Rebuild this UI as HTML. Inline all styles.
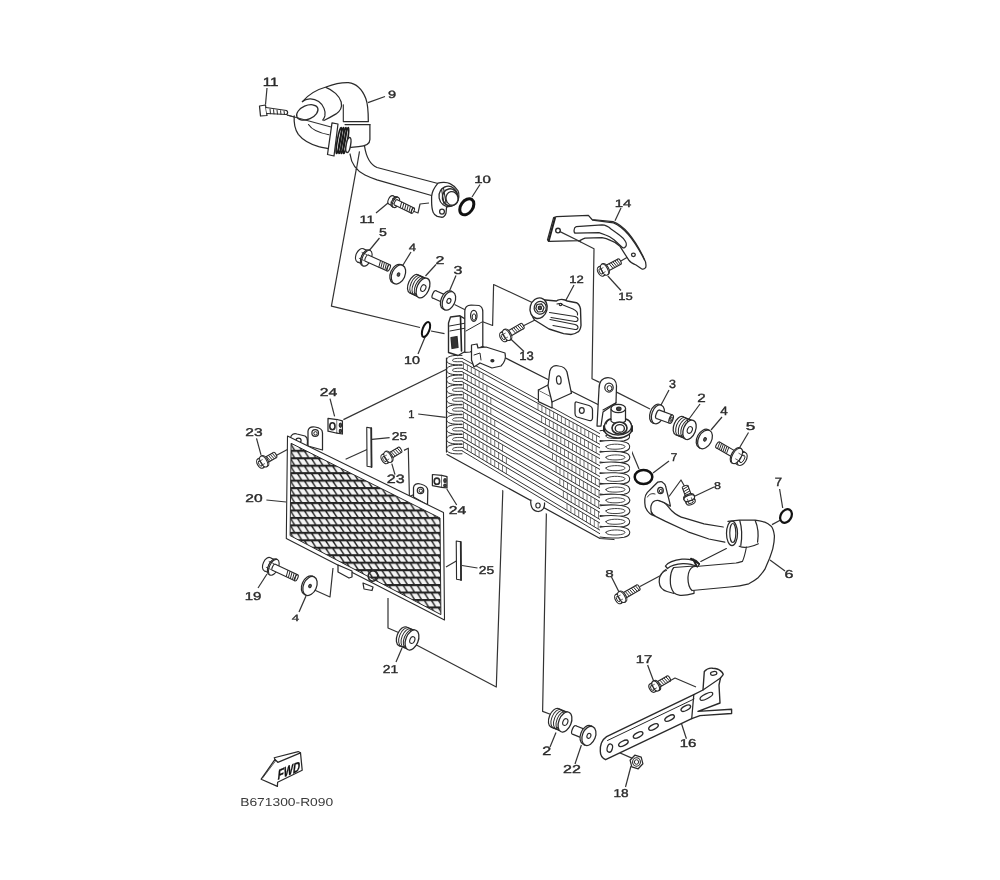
<!DOCTYPE html>
<html><head><meta charset="utf-8"><style>
html,body{margin:0;padding:0;background:#fff;}
svg{display:block;will-change:transform;}
text{font-family:"Liberation Sans",sans-serif;fill:#2a2a2a;stroke:#2a2a2a;stroke-width:0.4px;text-rendering:geometricPrecision;}
</style></head><body>
<svg width="1000" height="880" viewBox="0 0 1000 880">
<rect width="1000" height="880" fill="#fff"/>
<polyline points="267,88 265.5,104.5" fill="none" stroke="#333" stroke-width="1.2" stroke-linejoin="round"/>
<polyline points="368,102.6 385,96.5" fill="none" stroke="#333" stroke-width="1.2" stroke-linejoin="round"/>
<polyline points="480,184.5 472,197" fill="none" stroke="#333" stroke-width="1.2" stroke-linejoin="round"/>
<polyline points="388,203 376,213" fill="none" stroke="#333" stroke-width="1.2" stroke-linejoin="round"/>
<polyline points="368,252 379.5,238" fill="none" stroke="#333" stroke-width="1.2" stroke-linejoin="round"/>
<polyline points="402.7,265.5 411,252" fill="none" stroke="#333" stroke-width="1.2" stroke-linejoin="round"/>
<polyline points="425.5,276 436,264.5" fill="none" stroke="#333" stroke-width="1.2" stroke-linejoin="round"/>
<polyline points="449,292 456,275.5" fill="none" stroke="#333" stroke-width="1.2" stroke-linejoin="round"/>
<polyline points="425.5,336 418,354" fill="none" stroke="#333" stroke-width="1.2" stroke-linejoin="round"/>
<polyline points="615,220.7 621,208" fill="none" stroke="#333" stroke-width="1.2" stroke-linejoin="round"/>
<polyline points="566,300 574,285" fill="none" stroke="#333" stroke-width="1.2" stroke-linejoin="round"/>
<polyline points="607.8,276 621,290.5" fill="none" stroke="#333" stroke-width="1.2" stroke-linejoin="round"/>
<polyline points="510.7,339 524,351.5" fill="none" stroke="#333" stroke-width="1.2" stroke-linejoin="round"/>
<polyline points="334.6,416.3 330,398.7" fill="none" stroke="#333" stroke-width="1.2" stroke-linejoin="round"/>
<polyline points="261,454.8 256.5,438.3" fill="none" stroke="#333" stroke-width="1.2" stroke-linejoin="round"/>
<polyline points="418.2,414 445.7,417.4" fill="none" stroke="#333" stroke-width="1.2" stroke-linejoin="round"/>
<polyline points="372,439.4 389.6,437.6" fill="none" stroke="#333" stroke-width="1.2" stroke-linejoin="round"/>
<polyline points="391.8,463.6 395,474.6" fill="none" stroke="#333" stroke-width="1.2" stroke-linejoin="round"/>
<polyline points="266.4,500 286.2,502" fill="none" stroke="#333" stroke-width="1.2" stroke-linejoin="round"/>
<polyline points="446.8,489 456.7,505" fill="none" stroke="#333" stroke-width="1.2" stroke-linejoin="round"/>
<polyline points="462,565.5 477.5,568" fill="none" stroke="#333" stroke-width="1.2" stroke-linejoin="round"/>
<polyline points="267,574 258,588" fill="none" stroke="#333" stroke-width="1.2" stroke-linejoin="round"/>
<polyline points="306,596 299,612" fill="none" stroke="#333" stroke-width="1.2" stroke-linejoin="round"/>
<polyline points="402,648 396,662" fill="none" stroke="#333" stroke-width="1.2" stroke-linejoin="round"/>
<polyline points="661,405 669,390" fill="none" stroke="#333" stroke-width="1.2" stroke-linejoin="round"/>
<polyline points="689,419 700,404" fill="none" stroke="#333" stroke-width="1.2" stroke-linejoin="round"/>
<polyline points="711,430 722,417" fill="none" stroke="#333" stroke-width="1.2" stroke-linejoin="round"/>
<polyline points="737,452 748.5,432.5" fill="none" stroke="#333" stroke-width="1.2" stroke-linejoin="round"/>
<polyline points="653,473 669,461" fill="none" stroke="#333" stroke-width="1.2" stroke-linejoin="round"/>
<polyline points="694,496.5 714,487" fill="none" stroke="#333" stroke-width="1.2" stroke-linejoin="round"/>
<polyline points="779.6,489 782.7,508" fill="none" stroke="#333" stroke-width="1.2" stroke-linejoin="round"/>
<polyline points="619,592 611.5,577" fill="none" stroke="#333" stroke-width="1.2" stroke-linejoin="round"/>
<polyline points="770,560 785,571" fill="none" stroke="#333" stroke-width="1.2" stroke-linejoin="round"/>
<polyline points="654,682 647.6,665" fill="none" stroke="#333" stroke-width="1.2" stroke-linejoin="round"/>
<polyline points="680,719 686.4,738.7" fill="none" stroke="#333" stroke-width="1.2" stroke-linejoin="round"/>
<polyline points="556,732.4 550,747" fill="none" stroke="#333" stroke-width="1.2" stroke-linejoin="round"/>
<polyline points="581.4,745 575,764" fill="none" stroke="#333" stroke-width="1.2" stroke-linejoin="round"/>
<polyline points="631,766 625.5,787" fill="none" stroke="#333" stroke-width="1.2" stroke-linejoin="round"/>
<polyline points="287,115 330,127" fill="none" stroke="#333" stroke-width="1.2" stroke-linejoin="round"/>
<polyline points="359.5,151.4 331.4,306.2 420,327.5" fill="none" stroke="#333" stroke-width="1.2" stroke-linejoin="round"/>
<polyline points="431,331 444.5,333.6" fill="none" stroke="#333" stroke-width="1.2" stroke-linejoin="round"/>
<polyline points="413,211 418,213 420,204 429,203" fill="none" stroke="#333" stroke-width="1.2" stroke-linejoin="round"/>
<polyline points="454.5,304.5 465.5,310" fill="none" stroke="#333" stroke-width="1.2" stroke-linejoin="round"/>
<polyline points="474,318.5 492.6,325.5 493.6,284.5 532.7,302.7" fill="none" stroke="#333" stroke-width="1.2" stroke-linejoin="round"/>
<polyline points="523,326 535,320" fill="none" stroke="#333" stroke-width="1.2" stroke-linejoin="round"/>
<polyline points="561,232 594,248.8 592,378.8 599.6,382.4" fill="none" stroke="#333" stroke-width="1.2" stroke-linejoin="round"/>
<polyline points="620,261.6 633,254" fill="none" stroke="#333" stroke-width="1.2" stroke-linejoin="round"/>
<polyline points="611.6,389.6 650,409" fill="none" stroke="#333" stroke-width="1.2" stroke-linejoin="round"/>
<polyline points="621.5,427 639,469" fill="none" stroke="#333" stroke-width="1.2" stroke-linejoin="round"/>
<polyline points="669,496.5 681,480 685.5,488" fill="none" stroke="#333" stroke-width="1.2" stroke-linejoin="round"/>
<polyline points="780.6,520 772,524.6" fill="none" stroke="#333" stroke-width="1.2" stroke-linejoin="round"/>
<polyline points="640,586.5 669,571" fill="none" stroke="#333" stroke-width="1.2" stroke-linejoin="round"/>
<polyline points="343.4,419.6 451.6,366.8" fill="none" stroke="#333" stroke-width="1.2" stroke-linejoin="round"/>
<polyline points="275.2,456 294,446" fill="none" stroke="#333" stroke-width="1.2" stroke-linejoin="round"/>
<polyline points="345.6,459.2 367.6,449.3" fill="none" stroke="#333" stroke-width="1.2" stroke-linejoin="round"/>
<polyline points="404,450.4 408.3,448.2 409.4,496.6 414,494.5" fill="none" stroke="#333" stroke-width="1.2" stroke-linejoin="round"/>
<polyline points="446,567 458,560" fill="none" stroke="#333" stroke-width="1.2" stroke-linejoin="round"/>
<polyline points="310,588 330,597 333,568" fill="none" stroke="#333" stroke-width="1.2" stroke-linejoin="round"/>
<polyline points="402,634 388,628 388,598" fill="none" stroke="#333" stroke-width="1.2" stroke-linejoin="round"/>
<polyline points="416,644.7 496.3,687 502.9,488" fill="none" stroke="#333" stroke-width="1.2" stroke-linejoin="round"/>
<polyline points="546.4,512 542.6,711.4 551,714.5" fill="none" stroke="#333" stroke-width="1.2" stroke-linejoin="round"/>
<polyline points="669.6,681 675,678 696,687" fill="none" stroke="#333" stroke-width="1.2" stroke-linejoin="round"/>
<polyline points="611,749 633,758.6" fill="none" stroke="#333" stroke-width="1.2" stroke-linejoin="round"/>
<path d="M364.5,146 C366,156 369,164 377,167.5 L438,184 L432,196 L377,179.8 C369,178 360,174 355,168 C351,163 350,158 350,154 Z" fill="#fff" stroke="#2a2a2a" stroke-width="0" stroke-linejoin="round" stroke-linecap="round" />
<path d="M364.5,146 C366,156 369,164 377,167.5 L438,183.5" fill="none" stroke="#2a2a2a" stroke-width="1.25" stroke-linejoin="round" stroke-linecap="round" />
<path d="M350,154 C351,162 355,170 365,175 C369,177 373,178.5 377,179.8 L431.5,195.5" fill="none" stroke="#2a2a2a" stroke-width="1.25" stroke-linejoin="round" stroke-linecap="round" />
<path d="M294.2,115.9 C293.8,122 294.5,129 298.3,134.3 C302,139 310,144 318.7,146.6 C322,147.5 325,148 328,148.6 L340,124 L323,120 Z" fill="#fff" stroke="#2a2a2a" stroke-width="0" stroke-linejoin="round" stroke-linecap="round" />
<path d="M294.2,115.9 C293.8,122 294.5,129 298.3,134.3 C302,139 310,144 318.7,146.6 C322,147.5 325,148 328,148.6" fill="none" stroke="#2a2a2a" stroke-width="1.25" stroke-linejoin="round" stroke-linecap="round" />
<path d="M308.5,124.5 C311,128.5 317,132.5 329,134.8" fill="none" stroke="#2a2a2a" stroke-width="1.12" stroke-linejoin="round" stroke-linecap="round" />
<path d="M302.4,101.6 C308,95 317,89.5 326,87 C334,84 342,82.5 348.4,82.7 C356,83.5 362,89 365.8,98.5 C367.5,103 368.3,112 368.3,121 L369.9,124 L369.9,139.4 C369.9,143 366,146 358.6,146.6 L348.4,147.6 L343,124 L323,120 Z" fill="#fff" stroke="#2a2a2a" stroke-width="0" stroke-linejoin="round" stroke-linecap="round" />
<path d="M302.4,101.6 C308,95 317,89.5 326,87 C334,84 342,82.5 348.4,82.7 C356,83.5 362,89 365.8,98.5 C367.5,103 368.3,112 368.3,121" fill="none" stroke="#2a2a2a" stroke-width="1.25" stroke-linejoin="round" stroke-linecap="round" />
<path d="M369.9,124.5 L369.9,139.4 C369.9,143 366,146 358.6,146.6 L348.4,147.6" fill="none" stroke="#2a2a2a" stroke-width="1.25" stroke-linejoin="round" stroke-linecap="round" />
<path d="M302.4,101.6 C307,97.5 314,98.5 318.7,101.6 C323.5,105 326,111.5 324.9,115.9 C324.3,118 323.7,119 322.8,120" fill="none" stroke="#2a2a2a" stroke-width="1.25" stroke-linejoin="round" stroke-linecap="round" />
<ellipse cx="307.3" cy="112.4" rx="11.3" ry="6.8" transform="rotate(-24 307.3 112.4)" fill="#fff" stroke="#2a2a2a" stroke-width="1.25"/>
<path d="M325.9,87.3 C333,90 339.5,96 341.2,102 C342.5,108 339,112 336.1,113.9 C331,117 327,119 323.9,120.5" fill="none" stroke="#2a2a2a" stroke-width="1.25" stroke-linejoin="round" stroke-linecap="round" />
<path d="M343.3,104.7 L343.3,121" fill="none" stroke="#2a2a2a" stroke-width="1.12" stroke-linejoin="round" stroke-linecap="round" />
<path d="M343.3,121.6 L368.5,121.6 M345,124.6 L370,124.6" fill="none" stroke="#2a2a2a" stroke-width="1.12" stroke-linejoin="round" stroke-linecap="round" />
<path d="M332,122.8 L338,124 L334,156 L327.5,154.5 Z" fill="#fff" stroke="#2a2a2a" stroke-width="1.25" stroke-linejoin="round" stroke-linecap="round" />
<ellipse cx="338.8" cy="140.5" rx="1.5" ry="13.2" transform="rotate(10 338.8 140.5)" fill="none" stroke="#1a1a1a" stroke-width="1.62"/>
<ellipse cx="341.2" cy="140.5" rx="1.5" ry="13.2" transform="rotate(10 341.2 140.5)" fill="none" stroke="#1a1a1a" stroke-width="1.62"/>
<ellipse cx="343.6" cy="140.5" rx="1.5" ry="13.2" transform="rotate(10 343.6 140.5)" fill="none" stroke="#1a1a1a" stroke-width="1.62"/>
<ellipse cx="346.0" cy="140.5" rx="1.5" ry="13.2" transform="rotate(10 346.0 140.5)" fill="none" stroke="#1a1a1a" stroke-width="1.62"/>
<ellipse cx="348.4" cy="145.0" rx="2.2" ry="7.6" transform="rotate(10 348.4 145.0)" fill="#fff" stroke="#2a2a2a" stroke-width="1.38"/>
<path d="M438,183.2 C441,182 447,182 450,183.6 C453,185 456,187.5 458,190.8 C459.5,194 459.3,199.5 456.4,203.6 L448.4,206 L446.5,207.6 L446,213.2 C445,216 443,217.5 441,217.2 L437.2,216.4 C435,215 433.5,213.5 433.2,212.4 C432,209.5 431.6,206 431.6,201 L431.6,196.4 C432,192 433,189 438,183.2 Z" fill="#fff" stroke="#2a2a2a" stroke-width="1.25" stroke-linejoin="round" stroke-linecap="round" />
<ellipse cx="448.4" cy="196.4" rx="9.4" ry="10.2" transform="rotate(-10 448.4 196.4)" fill="#fff" stroke="#2a2a2a" stroke-width="1.25"/>
<ellipse cx="450.2" cy="197.4" rx="7.8" ry="8.6" transform="rotate(-10 450.2 197.4)" fill="none" stroke="#2a2a2a" stroke-width="1.5"/>
<ellipse cx="452.0" cy="198.4" rx="6.0" ry="6.8" transform="rotate(-10 452.0 198.4)" fill="#fff" stroke="#2a2a2a" stroke-width="1.25"/>
<path d="M441.5,189 L444,204 M443.5,188 L446,203" fill="none" stroke="#2a2a2a" stroke-width="1.12" stroke-linejoin="round" stroke-linecap="round" />
<ellipse cx="442.0" cy="211.6" rx="2.4" ry="2.6" transform="rotate(0 442.0 211.6)" fill="none" stroke="#2a2a2a" stroke-width="1.25"/>
<path d="M652,501.4 C655,500 662,500.5 666.4,504.6 C669,507 670,509 672,511 C676,515 680,517 684.8,518.2 L704,523.8 L723.2,527 L724.8,542.2 L708.8,539 L688,531.8 L665.6,521.4 C660,519 656,516.6 656,516.6 C652,514 651.2,511.8 651.2,511.8 L651.2,503.8 Z" fill="#fff" stroke="#2a2a2a" stroke-width="0" stroke-linejoin="round" stroke-linecap="round" />
<path d="M659,500.6 C662,500.5 664.5,502.5 666.4,504.6 C668.5,507 670,509 672,511 C676,515 680,517 684.8,518.2 L704,523.8 L723.2,527" fill="none" stroke="#2a2a2a" stroke-width="1.25" stroke-linejoin="round" stroke-linecap="round" />
<path d="M651.2,511.8 C652,514 654,515.6 656,516.6 L665.6,521.4 L688,531.8 L708.8,539 L724.8,542.2" fill="none" stroke="#2a2a2a" stroke-width="1.25" stroke-linejoin="round" stroke-linecap="round" />
<path d="M644.8,499 C645,496 646,494 647.2,492.6 L652.8,487 L657.6,482.2 C660,481.5 662,481.5 662.4,482.2 C664.5,483.5 665.5,485 665.6,486.2 L667.2,492.6 L669.6,502.2 L670.4,506.2 C666,503 662,501.5 659,500.6 C655,500 652,502 651,506 C650.5,510 651,512 652,514 L654.4,515.8 C651,515 649.6,513.4 649.6,513.4 C646,510 644.8,507 644.8,503 Z" fill="#fff" stroke="#2a2a2a" stroke-width="1.25" stroke-linejoin="round" stroke-linecap="round" />
<ellipse cx="660.5" cy="490.5" rx="2.8" ry="3.2" transform="rotate(0 660.5 490.5)" fill="#fff" stroke="#2a2a2a" stroke-width="1.25"/>
<ellipse cx="660.8" cy="491.0" rx="1.4" ry="1.6" transform="rotate(0 660.8 491.0)" fill="none" stroke="#2a2a2a" stroke-width="1.0"/>
<path d="M647.5,497 C649,494 652,493 655,494" fill="none" stroke="#2a2a2a" stroke-width="1.0" stroke-linejoin="round" stroke-linecap="round" />
<path d="M667,570 C661.5,572 659,577 659.2,582 C659.5,587 662,590 667,591.5 L674,593.5 L676,570 Z" fill="#fff" stroke="#2a2a2a" stroke-width="0" stroke-linejoin="round" stroke-linecap="round" />
<path d="M666,569.5 C661.5,572 659,577 659.2,582 C659.5,587 662,590 667,591.5 L674,593.5" fill="none" stroke="#2a2a2a" stroke-width="1.25" stroke-linejoin="round" stroke-linecap="round" />
<path d="M673.8,567.5 L694,566 L694,593.3 C688,595 684,595.6 680,595.3 C677,594.8 675,594 673.8,592.6 C671,589 670.2,584 670.3,580 C670.4,575 671.5,570 673.8,567.5 Z" fill="#fff" stroke="#2a2a2a" stroke-width="1.25" stroke-linejoin="round" stroke-linecap="round" />
<path d="M660.5,576 C662,572.5 664,571 666.5,570.5" fill="none" stroke="#2a2a2a" stroke-width="1.0" stroke-linejoin="round" stroke-linecap="round" />
<path d="M728,521.4 L739.2,520.1 L755.2,520.1 C760,520.5 764.8,522.2 764.8,522.2 C768,523.5 771.2,526.2 771.2,526.2 C773.5,529 774.4,535.8 774.4,535.8 C774.5,541 772.8,548.6 772.8,548.6 C771.5,553 769.6,558.2 769.6,558.2 C767.5,563 764.8,569.4 764.8,569.4 C762,573.5 758.4,577.4 758.4,577.4 C754,581 748.8,583.8 748.8,583.8 C740,586 729.6,587 729.6,587 L692,590.5 C689,587.5 687.8,582 688,577 C688.3,572 690,568.5 693,566.8 L736,563 L742.4,561.4 L746.4,547 L732,545 Z" fill="#fff" stroke="#2a2a2a" stroke-width="0" stroke-linejoin="round" stroke-linecap="round" />
<path d="M728,521.4 L739.2,520.1 L755.2,520.1 C760,520.5 764.8,522.2 764.8,522.2 C768,523.5 771.2,526.2 771.2,526.2 C773.5,529 774.4,535.8 774.4,535.8 C774.5,541 772.8,548.6 772.8,548.6 C771.5,553 769.6,558.2 769.6,558.2 C767.5,563 764.8,569.4 764.8,569.4 C762,573.5 758.4,577.4 758.4,577.4 C754,581 748.8,583.8 748.8,583.8 C740,586 729.6,587 729.6,587 L692,590.5 C689,587.5 687.8,582 688,577 C688.3,572 690,568.5 693,566.8" fill="none" stroke="#2a2a2a" stroke-width="1.25" stroke-linejoin="round" stroke-linecap="round" />
<path d="M693,566.8 L736,563 C739,562.5 741.5,561.5 742.4,561.4 C744.5,557 745.5,552 746.4,547" fill="none" stroke="#2a2a2a" stroke-width="1.12" stroke-linejoin="round" stroke-linecap="round" />
<ellipse cx="732.0" cy="533.4" rx="5.5" ry="12.3" transform="rotate(0 732.0 533.4)" fill="#fff" stroke="#2a2a2a" stroke-width="1.25"/>
<ellipse cx="732.8" cy="533.0" rx="3.0" ry="9.5" transform="rotate(0 732.8 533.0)" fill="#fff" stroke="#2a2a2a" stroke-width="1.12"/>
<path d="M739.8,520.6 C742,528 742,538 740.8,545.4" fill="none" stroke="#2a2a2a" stroke-width="1.25" stroke-linejoin="round" stroke-linecap="round" />
<path d="M755.2,520.6 C758,527 758.5,536 757.6,542.2" fill="none" stroke="#2a2a2a" stroke-width="1.25" stroke-linejoin="round" stroke-linecap="round" />
<path d="M739.2,546.2 C742,547.5 746,547.5 748.8,547 C752,546.5 755,545.5 758.4,543.8" fill="none" stroke="#2a2a2a" stroke-width="1.12" stroke-linejoin="round" stroke-linecap="round" />
<path d="M700.8,561.4 L726.4,548.6" fill="none" stroke="#2a2a2a" stroke-width="1.12" stroke-linejoin="round" stroke-linecap="round" />
<path d="M665.4,566 C668,562.5 674,560.2 682,559.2 C688,558.6 694,559.6 699.5,564 L697.5,567 C693,564.5 688,563.6 683,563.7 C677,564 671,565.5 667.5,568.5 Z" fill="#fff" stroke="#2a2a2a" stroke-width="1.25" stroke-linejoin="round" stroke-linecap="round" />
<path d="M691,558.8 C694,559.6 697,561.5 699,563.8 M693.5,559.5 L696.5,566" fill="none" stroke="#222" stroke-width="2.0" stroke-linejoin="round" stroke-linecap="round" />
<path d="M549.5,241.3 L547.5,240 L553.6,217.6 L556.7,216.6 L588.4,215.4 L592,219.5 L613,221.7 C625,226 635,240 643.6,257.5 C645.5,261 646.5,265 645.6,267.7 C644,269.5 642,269 641.5,268.7 L636,265 C632,263.5 630,262 628.8,260.2 L620,246.4 C617,243 614,241.5 611,240.6 C607,238.5 604,237.8 602,237.6 L585,238.2 C583,238.8 581,240 579.8,240.6 Z" fill="#fff" stroke="#2a2a2a" stroke-width="1.25" stroke-linejoin="round" stroke-linecap="round" />
<path d="M592.5,220.2 L613.5,222.8 C626,228 636,243 644.5,260" fill="none" stroke="#2a2a2a" stroke-width="1.25" stroke-linejoin="round" stroke-linecap="round" />
<path d="M548.7,241 L555,218" fill="none" stroke="#222" stroke-width="2.0" stroke-linejoin="round" stroke-linecap="round" />
<path d="M576.2,226.6 L602,224.8 C606,225 609,227 611,229 C614.5,231.5 617.5,233.5 620,235.6 C622.5,237.5 624.5,239.5 625.5,241.5 C627,244 626.5,246.5 624.5,247.6 C623,248.2 622.5,247.8 621.8,247 L614,239.8 C611,237.5 608,235.8 605.6,235 L599,232.6 L575.6,233.2 C573.5,233 573.4,227.5 576.2,226.6 Z" fill="none" stroke="#2a2a2a" stroke-width="1.25" stroke-linejoin="round" stroke-linecap="round" />
<ellipse cx="558.0" cy="230.6" rx="2.3" ry="2.3" transform="rotate(0 558.0 230.6)" fill="none" stroke="#2a2a2a" stroke-width="1.38"/>
<ellipse cx="633.4" cy="254.8" rx="1.9" ry="1.7" transform="rotate(0 633.4 254.8)" fill="none" stroke="#2a2a2a" stroke-width="1.25"/>
<path d="M540,299.5 L556.4,301 C558,299.5 562,299 565,300 L567.3,301 L576.4,302.7 C579,304 580,306.5 580.5,309 L581,325.5 C580.5,329 579.5,331 578.2,331.8 C575,334 573,334.5 571,334.5 L563.6,333.6 L549,329 L534.5,320 C531,316 531,304 540,299.5 Z" fill="#fff" stroke="#2a2a2a" stroke-width="1.38" stroke-linejoin="round" stroke-linecap="round" />
<ellipse cx="538.6" cy="308.2" rx="8.5" ry="10.4" transform="rotate(15 538.6 308.2)" fill="#fff" stroke="#2a2a2a" stroke-width="1.38"/>
<ellipse cx="540.2" cy="307.8" rx="6.0" ry="6.4" transform="rotate(15 540.2 307.8)" fill="#fff" stroke="#2a2a2a" stroke-width="1.25"/>
<path d="M537,304.5 L541.5,303.8 L544,307.5 L542.5,311.5 L538,312 L535.8,308.5 Z" fill="#fff" stroke="#2a2a2a" stroke-width="1.25" stroke-linejoin="round" stroke-linecap="round" />
<ellipse cx="539.9" cy="307.9" rx="1.6" ry="1.8" transform="rotate(0 539.9 307.9)" fill="#555" stroke="#2a2a2a" stroke-width="1.25"/>
<path d="M549.5,312.5 L575,316.5 C579,317.5 579,322 575,321.5 L551,317.5" fill="none" stroke="#2a2a2a" stroke-width="1.12" stroke-linejoin="round" stroke-linecap="round" />
<path d="M550,319.5 L575,324.5 C579,325.5 579,330 575,329.5 L553,325.5" fill="none" stroke="#2a2a2a" stroke-width="1.12" stroke-linejoin="round" stroke-linecap="round" />
<path d="M557,304 C559,303 562,303.5 563,305 L573,309 C576,310.5 578,313 577.5,315" fill="none" stroke="#2a2a2a" stroke-width="1.12" stroke-linejoin="round" stroke-linecap="round" />
<ellipse cx="560.5" cy="304.5" rx="1.3" ry="1.1" transform="rotate(0 560.5 304.5)" fill="none" stroke="#2a2a2a" stroke-width="1.12"/>
<path d="M606.6,736.6 L693.8,694.6 L703,690 L704.3,671.5 C707,668.5 710,667.8 712.7,668.3 C716,668.5 719,669.5 720,670.4 C722,672 723.2,673.5 723.2,674.6 L720.5,678 L719,685 L720,703 L698,711.4 L731.6,709.3 L731.6,713.5 L700,715.6 L691.7,718.7 L605.6,759.7 C602,758 600.3,755 600.3,751.3 C600.2,747.5 600.6,745 601.4,743 C602.5,740 604.5,738 606.6,736.6 Z" fill="#fff" stroke="#2a2a2a" stroke-width="1.38" stroke-linejoin="round" stroke-linecap="round" />
<path d="M693.8,694.6 L691.7,718.7" fill="none" stroke="#2a2a2a" stroke-width="1.25" stroke-linejoin="round" stroke-linecap="round" />
<path d="M703,690 L720.5,678" fill="none" stroke="#2a2a2a" stroke-width="1.12" stroke-linejoin="round" stroke-linecap="round" />
<path d="M607.5,740.5 L694,699" fill="none" stroke="#2a2a2a" stroke-width="1.0" stroke-linejoin="round" stroke-linecap="round" />
<ellipse cx="713.7" cy="673.4" rx="3.2" ry="1.8" transform="rotate(-10 713.7 673.4)" fill="none" stroke="#2a2a2a" stroke-width="1.25"/>
<ellipse cx="623.4" cy="743.3" rx="5.2" ry="2.3" transform="rotate(-27 623.4 743.3)" fill="none" stroke="#2a2a2a" stroke-width="1.38"/>
<ellipse cx="638.1" cy="735.0" rx="5.2" ry="2.3" transform="rotate(-27 638.1 735.0)" fill="none" stroke="#2a2a2a" stroke-width="1.38"/>
<ellipse cx="653.5" cy="727.0" rx="5.2" ry="2.3" transform="rotate(-27 653.5 727.0)" fill="none" stroke="#2a2a2a" stroke-width="1.38"/>
<ellipse cx="669.6" cy="718.1" rx="5.2" ry="2.3" transform="rotate(-27 669.6 718.1)" fill="none" stroke="#2a2a2a" stroke-width="1.38"/>
<ellipse cx="685.8" cy="708.2" rx="5.2" ry="2.3" transform="rotate(-27 685.8 708.2)" fill="none" stroke="#2a2a2a" stroke-width="1.38"/>
<ellipse cx="706.4" cy="696.3" rx="7.0" ry="2.4" transform="rotate(-27 706.4 696.3)" fill="none" stroke="#2a2a2a" stroke-width="1.25"/>
<ellipse cx="609.8" cy="748.1" rx="2.6" ry="4.2" transform="rotate(15 609.8 748.1)" fill="none" stroke="#2a2a2a" stroke-width="1.25"/>
<path d="M261.2,779.2 L275,759.4 L277.8,762.3 L300.5,752.8 L302.2,770.2 L277.6,782.2 L277.4,786.4 Z" fill="#fff" stroke="#2a2a2a" stroke-width="1.25" stroke-linejoin="round" stroke-linecap="round" />
<path d="M275,759.4 L274.2,757.8 L298.2,751.6 L300.5,752.8" fill="none" stroke="#2a2a2a" stroke-width="1.12" stroke-linejoin="round" stroke-linecap="round" />
<path d="M263,777.5 L275.5,761" fill="none" stroke="#2a2a2a" stroke-width="0.75" stroke-linejoin="round" stroke-linecap="round" />
<text transform="translate(288.5 775.5) skewY(-22) scale(0.7 1) skewX(-10)" text-anchor="middle" font-size="14" font-weight="bold" style="font-family:'Liberation Sans',sans-serif;fill:#111;stroke:#111;stroke-width:0.35px">FWD</text>
<polyline points="359.5,151.4 356.3,170" fill="none" stroke="#333" stroke-width="1.2" stroke-linejoin="round"/>
<polyline points="559.5,231.4 581,242" fill="none" stroke="#333" stroke-width="1.2" stroke-linejoin="round"/>
<polyline points="287,115 331,127" fill="none" stroke="#333" stroke-width="1.2" stroke-linejoin="round"/>
<defs><pattern id="mesh" patternUnits="userSpaceOnUse" x="291.7" y="443.25" width="7.05" height="7.46">
<rect width="7.05" height="7.46" fill="#222"/>
<polygon points="0,1.1 5.3,1.1 8.8,6.45 3.5,6.45" fill="#f4f4f4"/>
<polygon points="-7.05,1.1 -1.75,1.1 1.75,6.45 -3.55,6.45" fill="#f4f4f4"/>
</pattern></defs>
<path d="M291,447 L290.5,438 C291,434.5 294,433 297,434 L305,436 C307,437 307.5,439 307.5,441 L307,449 Z" fill="#fff" stroke="#2a2a2a" stroke-width="1.25" stroke-linejoin="round" stroke-linecap="round" />
<ellipse cx="298.5" cy="440.5" rx="2.6" ry="2.4" transform="rotate(0 298.5 440.5)" fill="none" stroke="#2a2a2a" stroke-width="1.25"/>
<path d="M308,446 L308,431 C308.5,427.5 311.5,426.5 315,427 C319,427.5 322.5,429.5 322.5,433 L322.5,450 Z" fill="#fff" stroke="#2a2a2a" stroke-width="1.25" stroke-linejoin="round" stroke-linecap="round" />
<ellipse cx="315.2" cy="433.0" rx="3.3" ry="3.3" transform="rotate(0 315.2 433.0)" fill="none" stroke="#2a2a2a" stroke-width="1.25"/>
<ellipse cx="315.5" cy="433.3" rx="1.7" ry="1.7" transform="rotate(0 315.5 433.3)" fill="none" stroke="#2a2a2a" stroke-width="1.0"/>
<path d="M413.5,497 L413.5,487.5 C414,484 417,483 420.5,484 C424.5,485 427.8,487 427.8,490.5 L427.5,505 Z" fill="#fff" stroke="#2a2a2a" stroke-width="1.25" stroke-linejoin="round" stroke-linecap="round" />
<ellipse cx="420.5" cy="490.5" rx="3.2" ry="3.2" transform="rotate(0 420.5 490.5)" fill="none" stroke="#2a2a2a" stroke-width="1.25"/>
<ellipse cx="420.8" cy="490.8" rx="1.7" ry="1.7" transform="rotate(0 420.8 490.8)" fill="none" stroke="#2a2a2a" stroke-width="1.0"/>
<polygon points="287.5,436 443.5,512.5 444.5,620 286.3,538.5" fill="#fff" stroke="#2a2a2a" stroke-width="1.1" stroke-linejoin="round"/>
<polygon points="291.1,443.3 440.0,518.0 440.9,614.6 290.1,535.6" fill="url(#mesh)" stroke="#2a2a2a" stroke-width="1.0" stroke-linejoin="round"/>
<path d="M338,565 L352,571 L352,577 L349,578 L338,572 Z" fill="#fff" stroke="#2a2a2a" stroke-width="1.25" stroke-linejoin="round" stroke-linecap="round" />
<path d="M363,583 L373,587 L372,590.5 L364,589 Z" fill="#fff" stroke="#2a2a2a" stroke-width="1.25" stroke-linejoin="round" stroke-linecap="round" />
<ellipse cx="373.0" cy="576.0" rx="4.8" ry="5.2" transform="rotate(10 373.0 576.0)" fill="none" stroke="#2a2a2a" stroke-width="1.62"/>
<path d="M446,354.0 L462.0,356.0 L467,338 L600,405 L632,432 L632,542 L600,542 L446,460 Z" fill="#fff" stroke="#2a2a2a" stroke-width="0" stroke-linejoin="round" stroke-linecap="round" />
<path d="M467,338.5 L548,379.5" fill="none" stroke="#2a2a2a" stroke-width="1.25" stroke-linejoin="round" stroke-linecap="round" />
<path d="M571,391 L598,404.5" fill="none" stroke="#2a2a2a" stroke-width="1.25" stroke-linejoin="round" stroke-linecap="round" />
<path d="M463.5,362.8V368.9 M467.4,365.0V371.1 M471.3,367.1V373.2 M475.2,369.2V375.4 M479.1,371.4V377.5 M483.0,373.5V379.7 M538.0,403.6V410.1 M541.9,405.7V412.3 M545.8,407.8V414.4 M549.7,410.0V416.6 M553.6,412.1V418.8 M557.5,414.2V420.9 M561.4,416.4V423.1 M565.3,418.5V425.2 M569.2,420.6V427.4 M573.1,422.8V429.5 M577.0,424.9V431.7 M580.9,427.1V433.9 M584.8,429.2V436.0 M588.7,431.3V438.2 M592.6,433.5V440.3 M596.5,435.6V442.5 M463.5,372.7V378.8 M467.4,374.9V381.0 M471.3,377.0V383.2 M475.2,379.2V385.4 M479.1,381.3V387.5 M483.0,383.5V389.7 M486.9,385.7V391.9 M541.6,415.9V422.5 M545.5,418.1V424.7 M549.4,420.2V426.9 M553.3,422.4V429.0 M557.2,424.6V431.2 M561.1,426.7V433.4 M565.0,428.9V435.6 M568.9,431.0V437.8 M572.8,433.2V439.9 M576.7,435.3V442.1 M580.6,437.5V444.3 M584.5,439.7V446.5 M588.4,441.8V448.7 M592.3,444.0V450.9 M596.2,446.1V453.0 M463.5,382.6V388.7 M467.4,384.8V390.9 M471.3,387.0V393.1 M475.2,389.2V395.3 M479.1,391.3V397.5 M483.0,393.5V399.7 M486.9,395.7V401.9 M490.8,397.9V404.1 M545.2,428.3V434.9 M549.1,430.5V437.1 M553.0,432.7V439.3 M556.9,434.9V441.5 M560.8,437.1V443.7 M564.7,439.2V445.9 M568.6,441.4V448.1 M572.5,443.6V450.4 M576.4,445.8V452.6 M580.3,448.0V454.8 M584.2,450.1V457.0 M588.1,452.3V459.2 M592.0,454.5V461.4 M595.9,456.7V463.6 M463.5,392.5V398.6 M467.4,394.7V400.8 M471.3,396.9V403.1 M475.2,399.1V405.3 M479.1,401.3V407.5 M483.0,403.5V409.8 M486.9,405.7V412.0 M490.8,407.9V414.2 M548.9,440.8V447.4 M552.8,443.0V449.6 M556.7,445.2V451.8 M560.6,447.4V454.1 M564.5,449.6V456.3 M568.4,451.8V458.5 M572.3,454.0V460.8 M576.2,456.2V463.0 M580.1,458.4V465.2 M584.0,460.6V467.4 M587.9,462.8V469.7 M591.8,465.0V471.9 M595.7,467.2V474.1 M463.5,402.4V408.5 M467.4,404.6V410.8 M471.3,406.9V413.0 M475.2,409.1V415.3 M479.1,411.3V417.5 M483.0,413.6V419.8 M486.9,415.8V422.0 M490.8,418.0V424.3 M494.7,420.2V426.5 M552.5,453.3V459.9 M556.4,455.5V462.1 M560.3,457.7V464.4 M564.2,459.9V466.6 M568.1,462.2V468.9 M572.0,464.4V471.1 M575.9,466.6V473.4 M579.8,468.8V475.6 M583.7,471.1V477.9 M587.6,473.3V480.2 M591.5,475.5V482.4 M595.4,477.8V484.7 M599.3,480.0V486.9 M463.5,412.3V418.4 M467.4,414.6V420.7 M471.3,416.8V423.0 M475.2,419.1V425.2 M479.1,421.3V427.5 M483.0,423.6V429.8 M486.9,425.8V432.1 M490.8,428.1V434.3 M494.7,430.3V436.6 M498.6,432.6V438.9 M556.1,465.8V472.4 M560.0,468.0V474.7 M563.9,470.3V477.0 M567.8,472.5V479.3 M571.7,474.8V481.5 M575.6,477.0V483.8 M579.5,479.3V486.1 M583.4,481.5V488.4 M587.3,483.8V490.6 M591.2,486.0V492.9 M595.1,488.3V495.2 M599.0,490.5V497.5 M463.5,422.2V428.3 M467.4,424.5V430.6 M471.3,426.8V432.9 M475.2,429.0V435.2 M479.1,431.3V437.5 M483.0,433.6V439.8 M486.9,435.9V442.1 M490.8,438.1V444.4 M494.7,440.4V446.7 M498.6,442.7V449.0 M502.5,445.0V451.3 M559.8,478.4V485.0 M563.6,480.6V487.3 M567.5,482.9V489.6 M571.4,485.2V491.9 M575.3,487.5V494.2 M579.2,489.7V496.5 M583.1,492.0V498.8 M587.0,494.3V501.1 M590.9,496.6V503.4 M594.8,498.8V505.7 M598.7,501.1V508.0 M463.5,432.1V438.2 M467.4,434.4V440.5 M471.3,436.7V442.8 M475.2,439.0V445.2 M479.1,441.3V447.5 M483.0,443.6V449.8 M486.9,445.9V452.1 M490.8,448.2V454.5 M494.7,450.5V456.8 M498.6,452.8V459.1 M502.5,455.1V461.4 M506.4,457.4V463.7 M563.4,491.0V497.7 M567.3,493.3V500.0 M571.2,495.6V502.3 M575.1,497.9V504.6 M579.0,500.2V507.0 M582.9,502.5V509.3 M586.8,504.8V511.6 M590.7,507.1V513.9 M594.6,509.4V516.2 M598.5,511.7V518.6 M463.5,442.0V448.1 M467.4,444.3V450.4 M471.3,446.6V452.8 M475.2,449.0V455.1 M479.1,451.3V457.5 M483.0,453.6V459.8 M486.9,455.9V462.2 M490.8,458.3V464.5 M494.7,460.6V466.9 M498.6,462.9V469.2 M502.5,465.2V471.6 M506.4,467.5V473.9 M567.0,503.6V510.4 M570.9,506.0V512.7 M574.8,508.3V515.0 M578.7,510.6V517.4 M582.6,512.9V519.7 M586.5,515.2V522.1 M590.4,517.6V524.4 M594.3,519.9V526.8 M598.2,522.2V529.1" stroke="#606060" stroke-width="0.85" fill="none"/>
<path d="M462.0,358.2L600.0,433.7 M462.0,361.8L600.0,437.3 M462.0,368.1L600.0,444.4 M462.0,371.7L600.0,448.0 M462.0,378.0L600.0,455.1 M462.0,381.6L600.0,458.7 M462.0,387.9L600.0,465.9 M462.0,391.5L600.0,469.5 M462.0,397.8L600.0,476.6 M462.0,401.4L600.0,480.2 M462.0,407.6L600.0,487.3 M462.0,411.2L600.0,490.9 M462.0,417.5L600.0,498.0 M462.0,421.1L600.0,501.6 M462.0,427.4L600.0,508.8 M462.0,431.0L600.0,512.4 M462.0,437.3L600.0,519.5 M462.0,440.9L600.0,523.1 M462.0,447.2L600.0,530.2 M462.0,450.8L600.0,533.8" stroke="#2a2a2a" stroke-width="0.95" fill="none"/>
<path d="M462.0,355.4 C451,354.8 446.5,357.0 446.5,360.0 C446.5,363.5 451,365.4 462.0,364.8" fill="#fff" stroke="#2a2a2a" stroke-width="1.0" stroke-linejoin="round" stroke-linecap="round" />
<path d="M462.0,358.4 C455,358.0 452.5,359.0 452.5,360.4 C452.5,361.6 455,362.0 462.0,361.6" fill="none" stroke="#2a2a2a" stroke-width="0.88" stroke-linejoin="round" stroke-linecap="round" />
<path d="M462.0,365.2888888888889 C451,364.6888888888889 446.5,366.8888888888889 446.5,369.8888888888889 C446.5,373.3888888888889 451,375.2888888888889 462.0,374.6888888888889" fill="#fff" stroke="#2a2a2a" stroke-width="1.0" stroke-linejoin="round" stroke-linecap="round" />
<path d="M462.0,368.2888888888889 C455,367.8888888888889 452.5,368.8888888888889 452.5,370.2888888888889 C452.5,371.48888888888894 455,371.8888888888889 462.0,371.48888888888894" fill="none" stroke="#2a2a2a" stroke-width="0.88" stroke-linejoin="round" stroke-linecap="round" />
<path d="M462.0,375.17777777777775 C451,374.5777777777778 446.5,376.77777777777777 446.5,379.77777777777777 C446.5,383.27777777777777 451,385.17777777777775 462.0,384.5777777777778" fill="#fff" stroke="#2a2a2a" stroke-width="1.0" stroke-linejoin="round" stroke-linecap="round" />
<path d="M462.0,378.17777777777775 C455,377.77777777777777 452.5,378.77777777777777 452.5,380.17777777777775 C452.5,381.3777777777778 455,381.77777777777777 462.0,381.3777777777778" fill="none" stroke="#2a2a2a" stroke-width="0.88" stroke-linejoin="round" stroke-linecap="round" />
<path d="M462.0,385.06666666666666 C451,384.4666666666667 446.5,386.6666666666667 446.5,389.6666666666667 C446.5,393.1666666666667 451,395.06666666666666 462.0,394.4666666666667" fill="#fff" stroke="#2a2a2a" stroke-width="1.0" stroke-linejoin="round" stroke-linecap="round" />
<path d="M462.0,388.06666666666666 C455,387.6666666666667 452.5,388.6666666666667 452.5,390.06666666666666 C452.5,391.2666666666667 455,391.6666666666667 462.0,391.2666666666667" fill="none" stroke="#2a2a2a" stroke-width="0.88" stroke-linejoin="round" stroke-linecap="round" />
<path d="M462.0,394.9555555555555 C451,394.35555555555555 446.5,396.55555555555554 446.5,399.55555555555554 C446.5,403.05555555555554 451,404.9555555555555 462.0,404.35555555555555" fill="#fff" stroke="#2a2a2a" stroke-width="1.0" stroke-linejoin="round" stroke-linecap="round" />
<path d="M462.0,397.9555555555555 C455,397.55555555555554 452.5,398.55555555555554 452.5,399.9555555555555 C452.5,401.15555555555557 455,401.55555555555554 462.0,401.15555555555557" fill="none" stroke="#2a2a2a" stroke-width="0.88" stroke-linejoin="round" stroke-linecap="round" />
<path d="M462.0,404.84444444444443 C451,404.24444444444447 446.5,406.44444444444446 446.5,409.44444444444446 C446.5,412.94444444444446 451,414.84444444444443 462.0,414.24444444444447" fill="#fff" stroke="#2a2a2a" stroke-width="1.0" stroke-linejoin="round" stroke-linecap="round" />
<path d="M462.0,407.84444444444443 C455,407.44444444444446 452.5,408.44444444444446 452.5,409.84444444444443 C452.5,411.0444444444445 455,411.44444444444446 462.0,411.0444444444445" fill="none" stroke="#2a2a2a" stroke-width="0.88" stroke-linejoin="round" stroke-linecap="round" />
<path d="M462.0,414.7333333333333 C451,414.1333333333333 446.5,416.3333333333333 446.5,419.3333333333333 C446.5,422.8333333333333 451,424.7333333333333 462.0,424.1333333333333" fill="#fff" stroke="#2a2a2a" stroke-width="1.0" stroke-linejoin="round" stroke-linecap="round" />
<path d="M462.0,417.7333333333333 C455,417.3333333333333 452.5,418.3333333333333 452.5,419.7333333333333 C452.5,420.93333333333334 455,421.3333333333333 462.0,420.93333333333334" fill="none" stroke="#2a2a2a" stroke-width="0.88" stroke-linejoin="round" stroke-linecap="round" />
<path d="M462.0,424.6222222222222 C451,424.02222222222224 446.5,426.22222222222223 446.5,429.22222222222223 C446.5,432.72222222222223 451,434.6222222222222 462.0,434.02222222222224" fill="#fff" stroke="#2a2a2a" stroke-width="1.0" stroke-linejoin="round" stroke-linecap="round" />
<path d="M462.0,427.6222222222222 C455,427.22222222222223 452.5,428.22222222222223 452.5,429.6222222222222 C452.5,430.82222222222225 455,431.22222222222223 462.0,430.82222222222225" fill="none" stroke="#2a2a2a" stroke-width="0.88" stroke-linejoin="round" stroke-linecap="round" />
<path d="M462.0,434.51111111111106 C451,433.9111111111111 446.5,436.1111111111111 446.5,439.1111111111111 C446.5,442.6111111111111 451,444.51111111111106 462.0,443.9111111111111" fill="#fff" stroke="#2a2a2a" stroke-width="1.0" stroke-linejoin="round" stroke-linecap="round" />
<path d="M462.0,437.51111111111106 C455,437.1111111111111 452.5,438.1111111111111 452.5,439.51111111111106 C452.5,440.7111111111111 455,441.1111111111111 462.0,440.7111111111111" fill="none" stroke="#2a2a2a" stroke-width="0.88" stroke-linejoin="round" stroke-linecap="round" />
<path d="M462.0,444.4 C451,443.8 446.5,446.0 446.5,449.0 C446.5,452.5 451,454.4 462.0,453.8" fill="#fff" stroke="#2a2a2a" stroke-width="1.0" stroke-linejoin="round" stroke-linecap="round" />
<path d="M462.0,447.4 C455,447.0 452.5,448.0 452.5,449.4 C452.5,450.6 455,451.0 462.0,450.6" fill="none" stroke="#2a2a2a" stroke-width="0.88" stroke-linejoin="round" stroke-linecap="round" />
<path d="M446.5,358.0 L446.5,452.0" fill="none" stroke="#2a2a2a" stroke-width="1.25" stroke-linejoin="round" stroke-linecap="round" />
<path d="M600.0,430.7 C608,429.3 624,429.3 628.5,433.0 C631,436.0 630,439.5 624,440.7 C616,441.9 606,441.5 600.0,440.5" fill="#fff" stroke="#2a2a2a" stroke-width="1.06" stroke-linejoin="round" stroke-linecap="round" />
<path d="M606,435.7 C608,432.9 621,432.7 624.5,435.0 C626.5,437.0 622,438.5 615,438.5 C609,438.5 605.5,437.5 606,435.7 Z" fill="none" stroke="#2a2a2a" stroke-width="0.88" stroke-linejoin="round" stroke-linecap="round" />
<path d="M600.0,441.4222222222222 C608,440.02222222222224 624,440.02222222222224 628.5,443.72222222222223 C631,446.72222222222223 630,450.22222222222223 624,451.4222222222222 C616,452.6222222222222 606,452.22222222222223 600.0,451.22222222222223" fill="#fff" stroke="#2a2a2a" stroke-width="1.06" stroke-linejoin="round" stroke-linecap="round" />
<path d="M606,446.4222222222222 C608,443.6222222222222 621,443.4222222222222 624.5,445.72222222222223 C626.5,447.72222222222223 622,449.22222222222223 615,449.22222222222223 C609,449.22222222222223 605.5,448.22222222222223 606,446.4222222222222 Z" fill="none" stroke="#2a2a2a" stroke-width="0.88" stroke-linejoin="round" stroke-linecap="round" />
<path d="M600.0,452.14444444444445 C608,450.74444444444447 624,450.74444444444447 628.5,454.44444444444446 C631,457.44444444444446 630,460.94444444444446 624,462.14444444444445 C616,463.34444444444443 606,462.94444444444446 600.0,461.94444444444446" fill="#fff" stroke="#2a2a2a" stroke-width="1.06" stroke-linejoin="round" stroke-linecap="round" />
<path d="M606,457.14444444444445 C608,454.34444444444443 621,454.14444444444445 624.5,456.44444444444446 C626.5,458.44444444444446 622,459.94444444444446 615,459.94444444444446 C609,459.94444444444446 605.5,458.94444444444446 606,457.14444444444445 Z" fill="none" stroke="#2a2a2a" stroke-width="0.88" stroke-linejoin="round" stroke-linecap="round" />
<path d="M600.0,462.8666666666667 C608,461.4666666666667 624,461.4666666666667 628.5,465.1666666666667 C631,468.1666666666667 630,471.6666666666667 624,472.8666666666667 C616,474.06666666666666 606,473.6666666666667 600.0,472.6666666666667" fill="#fff" stroke="#2a2a2a" stroke-width="1.06" stroke-linejoin="round" stroke-linecap="round" />
<path d="M606,467.8666666666667 C608,465.06666666666666 621,464.8666666666667 624.5,467.1666666666667 C626.5,469.1666666666667 622,470.6666666666667 615,470.6666666666667 C609,470.6666666666667 605.5,469.6666666666667 606,467.8666666666667 Z" fill="none" stroke="#2a2a2a" stroke-width="0.88" stroke-linejoin="round" stroke-linecap="round" />
<path d="M600.0,473.5888888888889 C608,472.1888888888889 624,472.1888888888889 628.5,475.8888888888889 C631,478.8888888888889 630,482.3888888888889 624,483.5888888888889 C616,484.7888888888889 606,484.3888888888889 600.0,483.3888888888889" fill="#fff" stroke="#2a2a2a" stroke-width="1.06" stroke-linejoin="round" stroke-linecap="round" />
<path d="M606,478.5888888888889 C608,475.7888888888889 621,475.5888888888889 624.5,477.8888888888889 C626.5,479.8888888888889 622,481.3888888888889 615,481.3888888888889 C609,481.3888888888889 605.5,480.3888888888889 606,478.5888888888889 Z" fill="none" stroke="#2a2a2a" stroke-width="0.88" stroke-linejoin="round" stroke-linecap="round" />
<path d="M600.0,484.3111111111111 C608,482.9111111111111 624,482.9111111111111 628.5,486.6111111111111 C631,489.6111111111111 630,493.1111111111111 624,494.3111111111111 C616,495.51111111111106 606,495.1111111111111 600.0,494.1111111111111" fill="#fff" stroke="#2a2a2a" stroke-width="1.06" stroke-linejoin="round" stroke-linecap="round" />
<path d="M606,489.3111111111111 C608,486.51111111111106 621,486.3111111111111 624.5,488.6111111111111 C626.5,490.6111111111111 622,492.1111111111111 615,492.1111111111111 C609,492.1111111111111 605.5,491.1111111111111 606,489.3111111111111 Z" fill="none" stroke="#2a2a2a" stroke-width="0.88" stroke-linejoin="round" stroke-linecap="round" />
<path d="M600.0,495.0333333333333 C608,493.6333333333333 624,493.6333333333333 628.5,497.3333333333333 C631,500.3333333333333 630,503.8333333333333 624,505.0333333333333 C616,506.2333333333333 606,505.8333333333333 600.0,504.8333333333333" fill="#fff" stroke="#2a2a2a" stroke-width="1.06" stroke-linejoin="round" stroke-linecap="round" />
<path d="M606,500.0333333333333 C608,497.2333333333333 621,497.0333333333333 624.5,499.3333333333333 C626.5,501.3333333333333 622,502.8333333333333 615,502.8333333333333 C609,502.8333333333333 605.5,501.8333333333333 606,500.0333333333333 Z" fill="none" stroke="#2a2a2a" stroke-width="0.88" stroke-linejoin="round" stroke-linecap="round" />
<path d="M600.0,505.75555555555553 C608,504.35555555555555 624,504.35555555555555 628.5,508.05555555555554 C631,511.05555555555554 630,514.5555555555555 624,515.7555555555556 C616,516.9555555555555 606,516.5555555555555 600.0,515.5555555555555" fill="#fff" stroke="#2a2a2a" stroke-width="1.06" stroke-linejoin="round" stroke-linecap="round" />
<path d="M606,510.75555555555553 C608,507.9555555555555 621,507.75555555555553 624.5,510.05555555555554 C626.5,512.0555555555555 622,513.5555555555555 615,513.5555555555555 C609,513.5555555555555 605.5,512.5555555555555 606,510.75555555555553 Z" fill="none" stroke="#2a2a2a" stroke-width="0.88" stroke-linejoin="round" stroke-linecap="round" />
<path d="M600.0,516.4777777777779 C608,515.0777777777778 624,515.0777777777778 628.5,518.7777777777778 C631,521.7777777777778 630,525.2777777777778 624,526.4777777777779 C616,527.6777777777778 606,527.2777777777778 600.0,526.2777777777778" fill="#fff" stroke="#2a2a2a" stroke-width="1.06" stroke-linejoin="round" stroke-linecap="round" />
<path d="M606,521.4777777777779 C608,518.6777777777778 621,518.4777777777779 624.5,520.7777777777778 C626.5,522.7777777777778 622,524.2777777777778 615,524.2777777777778 C609,524.2777777777778 605.5,523.2777777777778 606,521.4777777777779 Z" fill="none" stroke="#2a2a2a" stroke-width="0.88" stroke-linejoin="round" stroke-linecap="round" />
<path d="M600.0,527.2 C608,525.8 624,525.8 628.5,529.5 C631,532.5 630,536.0 624,537.2 C616,538.4 606,538.0 600.0,537.0" fill="#fff" stroke="#2a2a2a" stroke-width="1.06" stroke-linejoin="round" stroke-linecap="round" />
<path d="M606,532.2 C608,529.4 621,529.2 624.5,531.5 C626.5,533.5 622,535.0 615,535.0 C609,535.0 605.5,534.0 606,532.2 Z" fill="none" stroke="#2a2a2a" stroke-width="0.88" stroke-linejoin="round" stroke-linecap="round" />
<path d="M447,454.5 L600.0,538.5 L614,539.5" fill="none" stroke="#2a2a2a" stroke-width="1.25" stroke-linejoin="round" stroke-linecap="round" />
<path d="M531,500 C530,505 532,511 538,511.5 C543,511.5 545,507 544.5,503" fill="#fff" stroke="#2a2a2a" stroke-width="1.25" stroke-linejoin="round" stroke-linecap="round" />
<ellipse cx="538.0" cy="505.5" rx="2.2" ry="2.5" transform="rotate(0 538.0 505.5)" fill="none" stroke="#2a2a2a" stroke-width="1.12"/>
<path d="M538.4,390 L538.4,401.6 L552,408 L552,397 Z" fill="#fff" stroke="#2a2a2a" stroke-width="1.25" stroke-linejoin="round" stroke-linecap="round" />
<path d="M538.4,390 L548,385 L571.4,393.2 L552,397" fill="#fff" stroke="#2a2a2a" stroke-width="1.25" stroke-linejoin="round" stroke-linecap="round" />
<path d="M548,386 L549.8,371 C551,366 555,365 558.8,366 C563,366.5 566,369 567,372 L571.4,393.2 L552,402 Z" fill="#fff" stroke="#2a2a2a" stroke-width="1.25" stroke-linejoin="round" stroke-linecap="round" />
<ellipse cx="558.8" cy="380.0" rx="2.3" ry="4.2" transform="rotate(-5 558.8 380.0)" fill="none" stroke="#2a2a2a" stroke-width="1.25"/>
<path d="M576.5,402 L589,405.5 C591.5,406.5 592.5,408 592.5,410 L592.5,418 C592.5,420 591,421 589,420.5 L577,417 C575.5,416.5 575,415 575,413.5 L575,404 C575,402.5 575.5,401.8 576.5,402 Z" fill="#fff" stroke="#2a2a2a" stroke-width="1.25" stroke-linejoin="round" stroke-linecap="round" />
<ellipse cx="581.8" cy="410.5" rx="2.4" ry="2.8" transform="rotate(0 581.8 410.5)" fill="none" stroke="#2a2a2a" stroke-width="1.25"/>
<path d="M597,426 L599,389 C599,381 603,377.5 608,377.5 C613.5,377.5 616.5,381 616.5,386 L616,403 L603,412 L601,426 Z" fill="#fff" stroke="#2a2a2a" stroke-width="1.25" stroke-linejoin="round" stroke-linecap="round" />
<ellipse cx="609.0" cy="387.5" rx="4.2" ry="4.5" transform="rotate(0 609.0 387.5)" fill="none" stroke="#2a2a2a" stroke-width="1.25"/>
<ellipse cx="609.5" cy="388.2" rx="2.4" ry="2.6" transform="rotate(0 609.5 388.2)" fill="none" stroke="#2a2a2a" stroke-width="1.0"/>
<path d="M616,402.8 L603,410" fill="none" stroke="#2a2a2a" stroke-width="1.12" stroke-linejoin="round" stroke-linecap="round" />
<ellipse cx="618.0" cy="428.5" rx="14.0" ry="9.5" transform="rotate(0 618.0 428.5)" fill="#fff" stroke="#2a2a2a" stroke-width="1.5"/>
<path d="M604.2,426 L604.2,431 M631.8,426 L631.8,431" fill="none" stroke="#222" stroke-width="2.25" stroke-linejoin="round" stroke-linecap="round" />
<ellipse cx="618.0" cy="426.0" rx="13.5" ry="9.0" transform="rotate(0 618.0 426.0)" fill="#fff" stroke="#2a2a2a" stroke-width="1.25"/>
<path d="M611,409 L611,421 C613,424 623,424 625.5,421 L625.5,409 Z" fill="#fff" stroke="#2a2a2a" stroke-width="1.25" stroke-linejoin="round" stroke-linecap="round" />
<ellipse cx="618.3" cy="408.5" rx="7.3" ry="4.2" transform="rotate(0 618.3 408.5)" fill="#fff" stroke="#2a2a2a" stroke-width="1.25"/>
<ellipse cx="618.8" cy="408.8" rx="2.2" ry="1.8" transform="rotate(0 618.8 408.8)" fill="#444" stroke="#2a2a2a" stroke-width="1.25"/>
<ellipse cx="619.5" cy="428.0" rx="7.5" ry="6.0" transform="rotate(0 619.5 428.0)" fill="#fff" stroke="#2a2a2a" stroke-width="1.62"/>
<ellipse cx="619.8" cy="428.4" rx="4.6" ry="3.8" transform="rotate(0 619.8 428.4)" fill="none" stroke="#2a2a2a" stroke-width="1.38"/>
<path d="M606,424 C607,421 609,419.5 611,419.5 M631,424 C630,421 628,419.5 625.5,419.5" fill="none" stroke="#2a2a2a" stroke-width="1.12" stroke-linejoin="round" stroke-linecap="round" />
<path d="M448.5,323 L450.5,317 L460,315.8 L466,319.5 L466,351 L458,355.5 L448.5,352.5 Z" fill="#fff" stroke="#2a2a2a" stroke-width="1.38" stroke-linejoin="round" stroke-linecap="round" />
<path d="M451,337.5 L457,336.5 L458,347.5 L452,348.5 Z" fill="#333" stroke="#2a2a2a" stroke-width="1.25" stroke-linejoin="round" stroke-linecap="round" />
<path d="M449.5,326 L466,323 M450,331 L466,328" fill="none" stroke="#2a2a2a" stroke-width="1.0" stroke-linejoin="round" stroke-linecap="round" />
<path d="M460.5,317 L461.5,351" fill="none" stroke="#222" stroke-width="1.62" stroke-linejoin="round" stroke-linecap="round" />
<path d="M464.8,352.4 L464.8,311 C465,306 468,305 471,305 L479,305.5 C482,306.5 482.8,309 482.8,312 L482.8,346.4 L470,352 Z" fill="#fff" stroke="#2a2a2a" stroke-width="1.25" stroke-linejoin="round" stroke-linecap="round" />
<ellipse cx="473.8" cy="315.8" rx="3.2" ry="5.5" transform="rotate(0 473.8 315.8)" fill="none" stroke="#2a2a2a" stroke-width="1.25"/>
<ellipse cx="474.0" cy="317.0" rx="1.8" ry="3.2" transform="rotate(0 474.0 317.0)" fill="none" stroke="#2a2a2a" stroke-width="1.0"/>
<path d="M466,331 L482,322" fill="none" stroke="#2a2a2a" stroke-width="1.0" stroke-linejoin="round" stroke-linecap="round" />
<path d="M471.5,345 L477,344 L478,348 L486,347 L505,353 C506,357 505,362 501,366 L492,368 L480,363 L474,367 L471.5,360 Z" fill="#fff" stroke="#2a2a2a" stroke-width="1.25" stroke-linejoin="round" stroke-linecap="round" />
<ellipse cx="492.4" cy="360.8" rx="1.5" ry="1.2" transform="rotate(0 492.4 360.8)" fill="#333" stroke="#2a2a2a" stroke-width="1.25"/>
<path d="M474,355 L480,353 L481,360" fill="none" stroke="#2a2a2a" stroke-width="1.0" stroke-linejoin="round" stroke-linecap="round" />
<path d="M259.5,106 L265.5,105 L267,115.5 L260.5,116 Z" fill="#fff" stroke="#2a2a2a" stroke-width="1.25" stroke-linejoin="round" stroke-linecap="round" />
<path d="M266,107.5 L286.5,110.5 C288,111.5 288,113.5 286.5,114.5 L266.8,113.5" fill="#fff" stroke="#2a2a2a" stroke-width="1.25" stroke-linejoin="round" stroke-linecap="round" />
<line x1="270" y1="108.8" x2="270.5" y2="114.16" stroke="#2a2a2a" stroke-width="1.0"/>
<line x1="273.5" y1="109.325" x2="274.0" y2="114.3" stroke="#2a2a2a" stroke-width="1.0"/>
<line x1="277" y1="109.85000000000001" x2="277.5" y2="114.44" stroke="#2a2a2a" stroke-width="1.0"/>
<line x1="280.5" y1="110.375" x2="281.0" y2="114.58" stroke="#2a2a2a" stroke-width="1.0"/>
<line x1="284" y1="110.9" x2="284.5" y2="114.72" stroke="#2a2a2a" stroke-width="1.0"/>
<ellipse cx="391.2" cy="200.1" rx="2.8" ry="4.7" transform="rotate(26 391.2 200.1)" fill="#fff" stroke="#2a2a2a" stroke-width="1.12"/>
<polygon points="389.15,204.33 392.75,206.08 396.85,197.67 393.25,195.92" fill="#fff" stroke="none"/>
<path d="M389.15,204.33L392.75,206.08M393.25,195.92L396.85,197.67" stroke="#2a2a2a" stroke-width="1.12" fill="none"/>
<ellipse cx="394.8" cy="201.9" rx="2.8" ry="4.7" transform="rotate(26 394.8 201.9)" fill="#fff" stroke="#2a2a2a" stroke-width="1.12"/>
<ellipse cx="394.8" cy="201.9" rx="2.9" ry="5.5" transform="rotate(26 394.8 201.9)" fill="#fff" stroke="#2a2a2a" stroke-width="1.12"/>
<polygon points="392.39,206.82 393.47,207.35 398.29,197.46 397.21,196.93" fill="#fff" stroke="none"/>
<path d="M392.39,206.82L393.47,207.35M397.21,196.93L398.29,197.46" stroke="#2a2a2a" stroke-width="1.12" fill="none"/>
<ellipse cx="395.9" cy="202.4" rx="2.9" ry="5.5" transform="rotate(26 395.9 202.4)" fill="#fff" stroke="#2a2a2a" stroke-width="1.12"/>
<line x1="392.1" y1="198.2" x2="395.7" y2="200.0" stroke="#2a2a2a" stroke-width="0.75"/>
<line x1="390.3" y1="202.0" x2="393.9" y2="203.8" stroke="#2a2a2a" stroke-width="0.75"/>
<ellipse cx="395.9" cy="202.4" rx="1.2" ry="3.0" transform="rotate(26 395.9 202.4)" fill="#fff" stroke="#2a2a2a" stroke-width="1.12"/>
<polygon points="394.56,205.10 411.46,213.34 414.09,207.95 397.19,199.71" fill="#fff" stroke="none"/>
<path d="M394.56,205.10L411.46,213.34M397.19,199.71L414.09,207.95" stroke="#2a2a2a" stroke-width="1.12" fill="none"/>
<ellipse cx="412.8" cy="210.6" rx="1.2" ry="3.0" transform="rotate(26 412.8 210.6)" fill="#fff" stroke="#2a2a2a" stroke-width="1.12"/>
<path d="M400.1,207.8L401.7,201.9M402.3,208.9L403.9,203.0M404.5,210.0L406.1,204.0M406.7,211.0L408.3,205.1M408.9,212.1L410.5,206.2M411.1,213.2L412.7,207.2" stroke="#2a2a2a" stroke-width="1.00" fill="none"/>
<ellipse cx="360.3" cy="255.3" rx="4.2" ry="7.2" transform="rotate(24 360.3 255.3)" fill="#fff" stroke="#2a2a2a" stroke-width="1.12"/>
<polygon points="357.32,261.88 362.80,264.32 368.68,251.12 363.20,248.68" fill="#fff" stroke="none"/>
<path d="M357.32,261.88L362.80,264.32M363.20,248.68L368.68,251.12" stroke="#2a2a2a" stroke-width="1.12" fill="none"/>
<ellipse cx="365.7" cy="257.7" rx="4.2" ry="7.2" transform="rotate(24 365.7 257.7)" fill="#fff" stroke="#2a2a2a" stroke-width="1.12"/>
<ellipse cx="365.7" cy="257.7" rx="4.4" ry="8.5" transform="rotate(24 365.7 257.7)" fill="#fff" stroke="#2a2a2a" stroke-width="1.12"/>
<polygon points="362.28,265.49 363.38,265.97 370.29,250.44 369.20,249.96" fill="#fff" stroke="none"/>
<path d="M362.28,265.49L363.38,265.97M369.20,249.96L370.29,250.44" stroke="#2a2a2a" stroke-width="1.12" fill="none"/>
<ellipse cx="366.8" cy="258.2" rx="4.4" ry="8.5" transform="rotate(24 366.8 258.2)" fill="#fff" stroke="#2a2a2a" stroke-width="1.12"/>
<line x1="361.6" y1="252.3" x2="367.1" y2="254.8" stroke="#2a2a2a" stroke-width="0.75"/>
<line x1="358.9" y1="258.2" x2="364.4" y2="260.7" stroke="#2a2a2a" stroke-width="0.75"/>
<ellipse cx="366.8" cy="258.2" rx="1.4" ry="3.4" transform="rotate(24 366.8 258.2)" fill="#fff" stroke="#2a2a2a" stroke-width="1.12"/>
<polygon points="365.45,261.31 387.20,270.99 389.96,264.78 368.22,255.10" fill="#fff" stroke="none"/>
<path d="M365.45,261.31L387.20,270.99M368.22,255.10L389.96,264.78" stroke="#2a2a2a" stroke-width="1.12" fill="none"/>
<ellipse cx="388.6" cy="267.9" rx="1.4" ry="3.4" transform="rotate(24 388.6 267.9)" fill="#fff" stroke="#2a2a2a" stroke-width="1.12"/>
<path d="M378.8,267.3L380.5,260.6M380.8,268.1L382.5,261.4M382.8,269.0L384.5,262.3M384.8,269.9L386.5,263.2M386.8,270.8L388.5,264.1" stroke="#2a2a2a" stroke-width="1.00" fill="none"/>
<ellipse cx="397.0" cy="273.8" rx="6.5" ry="10.0" transform="rotate(24 397.0 273.8)" fill="#fff" stroke="#2a2a2a" stroke-width="1.25"/>
<polygon points="392.97,282.98 394.43,283.64 402.57,265.36 401.11,264.71" fill="#fff" stroke="none"/>
<path d="M392.97,282.98L394.43,283.64M401.11,264.71L402.57,265.36" stroke="#2a2a2a" stroke-width="1.25" fill="none"/>
<ellipse cx="398.5" cy="274.5" rx="6.5" ry="10.0" transform="rotate(24 398.5 274.5)" fill="#fff" stroke="#2a2a2a" stroke-width="1.25"/>
<ellipse cx="398.5" cy="274.5" rx="1.3" ry="1.8" transform="rotate(24 398.5 274.5)" fill="#555" stroke="#2a2a2a" stroke-width="1.0"/>
<ellipse cx="413.9" cy="283.9" rx="5.4" ry="10.0" transform="rotate(24.25391972431659 413.9 283.9)" fill="#fff" stroke="#2a2a2a" stroke-width="1.25"/>
<polygon points="409.79,292.99 418.90,297.09 427.10,278.91 417.98,274.80" fill="#fff" stroke="none"/>
<path d="M409.79,292.99L418.90,297.09M417.98,274.80L427.10,278.91" stroke="#2a2a2a" stroke-width="1.25" fill="none"/>
<ellipse cx="423.0" cy="288.0" rx="5.4" ry="10.0" transform="rotate(24.25391972431659 423.0 288.0)" fill="#fff" stroke="#2a2a2a" stroke-width="1.25"/>
<ellipse cx="416.2" cy="284.9" rx="5.4" ry="10.0" transform="rotate(24.25391972431659 416.2 284.9)" fill="none" stroke="#2a2a2a" stroke-width="1.0"/>
<ellipse cx="418.4" cy="285.9" rx="5.4" ry="10.0" transform="rotate(24.25391972431659 418.4 285.9)" fill="none" stroke="#2a2a2a" stroke-width="1.0"/>
<ellipse cx="420.7" cy="287.0" rx="5.4" ry="10.0" transform="rotate(24.25391972431659 420.7 287.0)" fill="none" stroke="#2a2a2a" stroke-width="1.0"/>
<ellipse cx="423.0" cy="288.0" rx="6.0" ry="10.5" transform="rotate(24.25391972431659 423.0 288.0)" fill="#fff" stroke="#2a2a2a" stroke-width="1.25"/>
<ellipse cx="423.3" cy="288.1" rx="2.4" ry="3.5" transform="rotate(24.25391972431659 423.3 288.1)" fill="#fff" stroke="#2a2a2a" stroke-width="1.12"/>
<ellipse cx="434.3" cy="294.4" rx="1.7" ry="4.0" transform="rotate(204 434.3 294.4)" fill="#fff" stroke="#2a2a2a" stroke-width="1.25"/>
<polygon points="448.71,296.44 435.92,290.74 432.67,298.05 445.46,303.75" fill="#fff" stroke="none"/>
<path d="M448.71,296.44L435.92,290.74M445.46,303.75L432.67,298.05" stroke="#2a2a2a" stroke-width="1.25" fill="none"/>
<ellipse cx="447.1" cy="300.1" rx="1.7" ry="4.0" transform="rotate(204 447.1 300.1)" fill="#fff" stroke="#2a2a2a" stroke-width="1.25"/>
<ellipse cx="447.1" cy="300.1" rx="6.0" ry="9.8" transform="rotate(204 447.1 300.1)" fill="#fff" stroke="#2a2a2a" stroke-width="1.25"/>
<polygon points="452.90,291.95 451.07,291.14 443.10,309.05 444.93,309.86" fill="#fff" stroke="none"/>
<path d="M452.90,291.95L451.07,291.14M444.93,309.86L443.10,309.05" stroke="#2a2a2a" stroke-width="1.25" fill="none"/>
<ellipse cx="448.9" cy="300.9" rx="6.0" ry="9.8" transform="rotate(204 448.9 300.9)" fill="#fff" stroke="#2a2a2a" stroke-width="1.25"/>
<ellipse cx="448.9" cy="300.9" rx="1.9" ry="2.5" transform="rotate(204 448.9 300.9)" fill="none" stroke="#2a2a2a" stroke-width="1.12"/>
<ellipse cx="426.0" cy="329.5" rx="3.4" ry="7.8" transform="rotate(20 426.0 329.5)" fill="none" stroke="#111" stroke-width="2.0"/>
<ellipse cx="466.8" cy="206.8" rx="6.0" ry="8.8" transform="rotate(35 466.8 206.8)" fill="none" stroke="#111" stroke-width="3.0"/>
<ellipse cx="522.3" cy="326.0" rx="1.2" ry="3.0" transform="rotate(-30 522.3 326.0)" fill="#fff" stroke="#2a2a2a" stroke-width="1.12"/>
<polygon points="509.27,337.00 523.82,328.60 520.82,323.40 506.27,331.80" fill="#fff" stroke="none"/>
<path d="M509.27,337.00L523.82,328.60M506.27,331.80L520.82,323.40" stroke="#2a2a2a" stroke-width="1.12" fill="none"/>
<ellipse cx="507.8" cy="334.4" rx="1.2" ry="3.0" transform="rotate(-30 507.8 334.4)" fill="#fff" stroke="#2a2a2a" stroke-width="1.12"/>
<path d="M515.7,333.3L511.6,328.7M517.6,332.2L513.6,327.6M519.6,331.0L515.5,326.5M521.5,329.9L517.5,325.3M523.5,328.8L519.4,324.2" stroke="#2a2a2a" stroke-width="1.00" fill="none"/>
<ellipse cx="506.7" cy="335.0" rx="3.0" ry="5.1" transform="rotate(-30 506.7 335.0)" fill="#fff" stroke="#2a2a2a" stroke-width="1.12"/>
<polygon points="505.82,341.42 509.28,339.42 504.18,330.58 500.72,332.58" fill="#fff" stroke="none"/>
<path d="M505.82,341.42L509.28,339.42M500.72,332.58L504.18,330.58" stroke="#2a2a2a" stroke-width="1.12" fill="none"/>
<ellipse cx="503.3" cy="337.0" rx="3.0" ry="5.1" transform="rotate(-30 503.3 337.0)" fill="#fff" stroke="#2a2a2a" stroke-width="1.12"/>
<ellipse cx="507.8" cy="334.4" rx="3.1" ry="6.0" transform="rotate(-30 507.8 334.4)" fill="#fff" stroke="#2a2a2a" stroke-width="1.12"/>
<polygon points="509.73,340.20 510.77,339.60 504.77,329.20 503.73,329.80" fill="#fff" stroke="none"/>
<path d="M509.73,340.20L510.77,339.60M503.73,329.80L504.77,329.20" stroke="#2a2a2a" stroke-width="1.12" fill="none"/>
<ellipse cx="506.7" cy="335.0" rx="3.1" ry="6.0" transform="rotate(-30 506.7 335.0)" fill="#fff" stroke="#2a2a2a" stroke-width="1.12"/>
<ellipse cx="503.3" cy="337.0" rx="1.5" ry="3.0" transform="rotate(-30 503.3 337.0)" fill="none" stroke="#2a2a2a" stroke-width="0.88"/>
<line x1="502.1" y1="335.0" x2="505.6" y2="333.0" stroke="#2a2a2a" stroke-width="0.75"/>
<line x1="504.4" y1="339.0" x2="507.9" y2="337.0" stroke="#2a2a2a" stroke-width="0.75"/>
<ellipse cx="619.5" cy="261.6" rx="1.2" ry="3.0" transform="rotate(-28 619.5 261.6)" fill="#fff" stroke="#2a2a2a" stroke-width="1.12"/>
<polygon points="606.93,271.65 620.88,264.23 618.07,258.93 604.12,266.35" fill="#fff" stroke="none"/>
<path d="M606.93,271.65L620.88,264.23M604.12,266.35L618.07,258.93" stroke="#2a2a2a" stroke-width="1.12" fill="none"/>
<ellipse cx="605.5" cy="269.0" rx="1.2" ry="3.0" transform="rotate(-28 605.5 269.0)" fill="#fff" stroke="#2a2a2a" stroke-width="1.12"/>
<path d="M613.0,268.4L609.1,263.7M614.9,267.4L611.0,262.7M616.8,266.4L612.9,261.7M618.7,265.4L614.8,260.7M620.5,264.4L616.7,259.7" stroke="#2a2a2a" stroke-width="1.00" fill="none"/>
<ellipse cx="604.5" cy="269.6" rx="3.0" ry="5.1" transform="rotate(-28 604.5 269.6)" fill="#fff" stroke="#2a2a2a" stroke-width="1.12"/>
<polygon points="603.33,275.94 606.86,274.06 602.07,265.06 598.54,266.94" fill="#fff" stroke="none"/>
<path d="M603.33,275.94L606.86,274.06M598.54,266.94L602.07,265.06" stroke="#2a2a2a" stroke-width="1.12" fill="none"/>
<ellipse cx="600.9" cy="271.4" rx="3.0" ry="5.1" transform="rotate(-28 600.9 271.4)" fill="#fff" stroke="#2a2a2a" stroke-width="1.12"/>
<ellipse cx="605.5" cy="269.0" rx="3.1" ry="6.0" transform="rotate(-28 605.5 269.0)" fill="#fff" stroke="#2a2a2a" stroke-width="1.12"/>
<polygon points="607.28,274.86 608.34,274.30 602.71,263.70 601.65,264.26" fill="#fff" stroke="none"/>
<path d="M607.28,274.86L608.34,274.30M601.65,264.26L602.71,263.70" stroke="#2a2a2a" stroke-width="1.12" fill="none"/>
<ellipse cx="604.5" cy="269.6" rx="3.1" ry="6.0" transform="rotate(-28 604.5 269.6)" fill="#fff" stroke="#2a2a2a" stroke-width="1.12"/>
<ellipse cx="600.9" cy="271.4" rx="1.5" ry="3.0" transform="rotate(-28 600.9 271.4)" fill="none" stroke="#2a2a2a" stroke-width="0.88"/>
<line x1="599.9" y1="269.4" x2="603.4" y2="267.5" stroke="#2a2a2a" stroke-width="0.75"/>
<line x1="602.0" y1="273.5" x2="605.5" y2="271.6" stroke="#2a2a2a" stroke-width="0.75"/>
<ellipse cx="656.1" cy="413.7" rx="6.0" ry="9.8" transform="rotate(20 656.1 413.7)" fill="#fff" stroke="#2a2a2a" stroke-width="1.25"/>
<polygon points="652.71,422.87 654.59,423.55 661.29,405.13 659.41,404.45" fill="#fff" stroke="none"/>
<path d="M652.71,422.87L654.59,423.55M659.41,404.45L661.29,405.13" stroke="#2a2a2a" stroke-width="1.25" fill="none"/>
<ellipse cx="657.9" cy="414.3" rx="6.0" ry="9.8" transform="rotate(20 657.9 414.3)" fill="#fff" stroke="#2a2a2a" stroke-width="1.25"/>
<ellipse cx="657.9" cy="414.3" rx="1.8" ry="4.4" transform="rotate(20 657.9 414.3)" fill="#fff" stroke="#2a2a2a" stroke-width="1.25"/>
<polygon points="656.43,418.48 669.59,423.26 672.60,415.00 659.44,410.21" fill="#fff" stroke="none"/>
<path d="M656.43,418.48L669.59,423.26M659.44,410.21L672.60,415.00" stroke="#2a2a2a" stroke-width="1.25" fill="none"/>
<ellipse cx="671.1" cy="419.1" rx="1.8" ry="4.4" transform="rotate(20 671.1 419.1)" fill="#fff" stroke="#2a2a2a" stroke-width="1.25"/>
<ellipse cx="671.1" cy="419.1" rx="0.9" ry="2.2" transform="rotate(20 671.1 419.1)" fill="none" stroke="#2a2a2a" stroke-width="1.0"/>
<ellipse cx="679.3" cy="425.7" rx="5.4" ry="9.7" transform="rotate(21.695109460796886 679.3 425.7)" fill="#fff" stroke="#2a2a2a" stroke-width="1.25"/>
<polygon points="675.70,434.74 685.92,438.80 693.08,420.80 682.86,416.73" fill="#fff" stroke="none"/>
<path d="M675.70,434.74L685.92,438.80M682.86,416.73L693.08,420.80" stroke="#2a2a2a" stroke-width="1.25" fill="none"/>
<ellipse cx="689.5" cy="429.8" rx="5.4" ry="9.7" transform="rotate(21.695109460796886 689.5 429.8)" fill="#fff" stroke="#2a2a2a" stroke-width="1.25"/>
<ellipse cx="681.8" cy="426.8" rx="5.4" ry="9.7" transform="rotate(21.695109460796886 681.8 426.8)" fill="none" stroke="#2a2a2a" stroke-width="1.0"/>
<ellipse cx="684.4" cy="427.8" rx="5.4" ry="9.7" transform="rotate(21.695109460796886 684.4 427.8)" fill="none" stroke="#2a2a2a" stroke-width="1.0"/>
<ellipse cx="686.9" cy="428.8" rx="5.4" ry="9.7" transform="rotate(21.695109460796886 686.9 428.8)" fill="none" stroke="#2a2a2a" stroke-width="1.0"/>
<ellipse cx="689.5" cy="429.8" rx="6.0" ry="10.2" transform="rotate(21.695109460796886 689.5 429.8)" fill="#fff" stroke="#2a2a2a" stroke-width="1.25"/>
<ellipse cx="689.8" cy="429.9" rx="2.4" ry="3.5" transform="rotate(21.695109460796886 689.8 429.9)" fill="#fff" stroke="#2a2a2a" stroke-width="1.12"/>
<ellipse cx="703.6" cy="438.6" rx="6.5" ry="10.0" transform="rotate(28 703.6 438.6)" fill="#fff" stroke="#2a2a2a" stroke-width="1.25"/>
<polygon points="698.89,447.48 700.31,448.23 709.69,430.57 708.28,429.82" fill="#fff" stroke="none"/>
<path d="M698.89,447.48L700.31,448.23M708.28,429.82L709.69,430.57" stroke="#2a2a2a" stroke-width="1.25" fill="none"/>
<ellipse cx="705.0" cy="439.4" rx="6.5" ry="10.0" transform="rotate(28 705.0 439.4)" fill="#fff" stroke="#2a2a2a" stroke-width="1.25"/>
<ellipse cx="705.0" cy="439.4" rx="1.3" ry="1.8" transform="rotate(28 705.0 439.4)" fill="#555" stroke="#2a2a2a" stroke-width="1.0"/>
<ellipse cx="717.8" cy="444.9" rx="1.4" ry="3.4" transform="rotate(210 717.8 444.9)" fill="#fff" stroke="#2a2a2a" stroke-width="1.12"/>
<polygon points="737.56,452.36 719.55,441.96 716.15,447.84 734.16,458.24" fill="#fff" stroke="none"/>
<path d="M737.56,452.36L719.55,441.96M734.16,458.24L716.15,447.84" stroke="#2a2a2a" stroke-width="1.12" fill="none"/>
<ellipse cx="735.9" cy="455.3" rx="1.4" ry="3.4" transform="rotate(210 735.9 455.3)" fill="#fff" stroke="#2a2a2a" stroke-width="1.12"/>
<path d="M728.8,447.3L726.4,453.8M727.0,446.3L724.6,452.7M725.2,445.2L722.9,451.7M723.4,444.2L721.1,450.7M721.7,443.2L719.3,449.7M719.9,442.2L717.5,448.6" stroke="#2a2a2a" stroke-width="1.00" fill="none"/>
<ellipse cx="736.9" cy="455.9" rx="4.2" ry="7.2" transform="rotate(210 736.9 455.9)" fill="#fff" stroke="#2a2a2a" stroke-width="1.12"/>
<polygon points="745.71,452.64 740.51,449.64 733.29,462.16 738.49,465.16" fill="#fff" stroke="none"/>
<path d="M745.71,452.64L740.51,449.64M738.49,465.16L733.29,462.16" stroke="#2a2a2a" stroke-width="1.12" fill="none"/>
<ellipse cx="742.1" cy="458.9" rx="4.2" ry="7.2" transform="rotate(210 742.1 458.9)" fill="#fff" stroke="#2a2a2a" stroke-width="1.12"/>
<ellipse cx="735.9" cy="455.3" rx="4.4" ry="8.5" transform="rotate(210 735.9 455.3)" fill="#fff" stroke="#2a2a2a" stroke-width="1.12"/>
<polygon points="741.15,448.54 740.11,447.94 731.61,462.66 732.65,463.26" fill="#fff" stroke="none"/>
<path d="M741.15,448.54L740.11,447.94M732.65,463.26L731.61,462.66" stroke="#2a2a2a" stroke-width="1.12" fill="none"/>
<ellipse cx="736.9" cy="455.9" rx="4.4" ry="8.5" transform="rotate(210 736.9 455.9)" fill="#fff" stroke="#2a2a2a" stroke-width="1.12"/>
<ellipse cx="742.1" cy="458.9" rx="2.1" ry="4.2" transform="rotate(210 742.1 458.9)" fill="none" stroke="#2a2a2a" stroke-width="0.88"/>
<line x1="740.5" y1="461.7" x2="735.3" y2="458.7" stroke="#2a2a2a" stroke-width="0.75"/>
<line x1="743.7" y1="456.1" x2="738.5" y2="453.1" stroke="#2a2a2a" stroke-width="0.75"/>
<ellipse cx="643.5" cy="477.0" rx="8.8" ry="7.0" transform="rotate(0 643.5 477.0)" fill="none" stroke="#111" stroke-width="2.5"/>
<ellipse cx="786.0" cy="516.0" rx="5.3" ry="7.3" transform="rotate(30 786.0 516.0)" fill="none" stroke="#111" stroke-width="2.25"/>
<ellipse cx="685.2" cy="486.8" rx="1.2" ry="3.0" transform="rotate(-110 685.2 486.8)" fill="#fff" stroke="#2a2a2a" stroke-width="1.12"/>
<polygon points="691.72,495.97 688.03,485.82 682.39,487.87 686.09,498.02" fill="#fff" stroke="none"/>
<path d="M691.72,495.97L688.03,485.82M686.09,498.02L682.39,487.87" stroke="#2a2a2a" stroke-width="1.12" fill="none"/>
<ellipse cx="688.9" cy="497.0" rx="1.2" ry="3.0" transform="rotate(-110 688.9 497.0)" fill="#fff" stroke="#2a2a2a" stroke-width="1.12"/>
<path d="M690.7,493.1L685.5,496.3M689.9,490.8L684.6,494.0M689.0,488.5L683.8,491.7M688.2,486.2L682.9,489.4" stroke="#2a2a2a" stroke-width="1.00" fill="none"/>
<ellipse cx="689.3" cy="498.1" rx="2.8" ry="4.7" transform="rotate(-110 689.3 498.1)" fill="#fff" stroke="#2a2a2a" stroke-width="1.12"/>
<polygon points="695.08,500.28 693.71,496.52 684.92,499.72 686.29,503.48" fill="#fff" stroke="none"/>
<path d="M695.08,500.28L693.71,496.52M686.29,503.48L684.92,499.72" stroke="#2a2a2a" stroke-width="1.12" fill="none"/>
<ellipse cx="690.7" cy="501.9" rx="2.8" ry="4.7" transform="rotate(-110 690.7 501.9)" fill="#fff" stroke="#2a2a2a" stroke-width="1.12"/>
<ellipse cx="688.9" cy="497.0" rx="2.9" ry="5.5" transform="rotate(-110 688.9 497.0)" fill="#fff" stroke="#2a2a2a" stroke-width="1.12"/>
<polygon points="694.48,496.24 694.07,495.11 683.74,498.87 684.15,500.00" fill="#fff" stroke="none"/>
<path d="M694.48,496.24L694.07,495.11M684.15,500.00L683.74,498.87" stroke="#2a2a2a" stroke-width="1.12" fill="none"/>
<ellipse cx="689.3" cy="498.1" rx="2.9" ry="5.5" transform="rotate(-110 689.3 498.1)" fill="#fff" stroke="#2a2a2a" stroke-width="1.12"/>
<ellipse cx="690.7" cy="501.9" rx="1.4" ry="2.8" transform="rotate(-110 690.7 501.9)" fill="none" stroke="#2a2a2a" stroke-width="0.88"/>
<line x1="688.7" y1="502.6" x2="687.3" y2="498.8" stroke="#2a2a2a" stroke-width="0.75"/>
<line x1="692.7" y1="501.2" x2="691.3" y2="497.4" stroke="#2a2a2a" stroke-width="0.75"/>
<ellipse cx="638.2" cy="587.5" rx="1.2" ry="3.0" transform="rotate(-30 638.2 587.5)" fill="#fff" stroke="#2a2a2a" stroke-width="1.12"/>
<polygon points="624.27,599.00 639.69,590.10 636.69,584.90 621.27,593.80" fill="#fff" stroke="none"/>
<path d="M624.27,599.00L639.69,590.10M621.27,593.80L636.69,584.90" stroke="#2a2a2a" stroke-width="1.12" fill="none"/>
<ellipse cx="622.8" cy="596.4" rx="1.2" ry="3.0" transform="rotate(-30 622.8 596.4)" fill="#fff" stroke="#2a2a2a" stroke-width="1.12"/>
<path d="M629.3,596.1L625.3,591.5M631.3,594.9L627.3,590.3M633.3,593.8L629.3,589.2M635.3,592.6L631.3,588.0M637.3,591.5L633.3,586.9M639.3,590.3L635.3,585.7" stroke="#2a2a2a" stroke-width="1.00" fill="none"/>
<ellipse cx="621.7" cy="597.0" rx="3.0" ry="5.1" transform="rotate(-30 621.7 597.0)" fill="#fff" stroke="#2a2a2a" stroke-width="1.12"/>
<polygon points="620.82,603.42 624.28,601.42 619.18,592.58 615.72,594.58" fill="#fff" stroke="none"/>
<path d="M620.82,603.42L624.28,601.42M615.72,594.58L619.18,592.58" stroke="#2a2a2a" stroke-width="1.12" fill="none"/>
<ellipse cx="618.3" cy="599.0" rx="3.0" ry="5.1" transform="rotate(-30 618.3 599.0)" fill="#fff" stroke="#2a2a2a" stroke-width="1.12"/>
<ellipse cx="622.8" cy="596.4" rx="3.1" ry="6.0" transform="rotate(-30 622.8 596.4)" fill="#fff" stroke="#2a2a2a" stroke-width="1.12"/>
<polygon points="624.73,602.20 625.77,601.60 619.77,591.20 618.73,591.80" fill="#fff" stroke="none"/>
<path d="M624.73,602.20L625.77,601.60M618.73,591.80L619.77,591.20" stroke="#2a2a2a" stroke-width="1.12" fill="none"/>
<ellipse cx="621.7" cy="597.0" rx="3.1" ry="6.0" transform="rotate(-30 621.7 597.0)" fill="#fff" stroke="#2a2a2a" stroke-width="1.12"/>
<ellipse cx="618.3" cy="599.0" rx="1.5" ry="3.0" transform="rotate(-30 618.3 599.0)" fill="none" stroke="#2a2a2a" stroke-width="0.88"/>
<line x1="617.1" y1="597.0" x2="620.6" y2="595.0" stroke="#2a2a2a" stroke-width="0.75"/>
<line x1="619.4" y1="601.0" x2="622.9" y2="599.0" stroke="#2a2a2a" stroke-width="0.75"/>
<ellipse cx="668.7" cy="678.5" rx="1.2" ry="3.0" transform="rotate(-30 668.7 678.5)" fill="#fff" stroke="#2a2a2a" stroke-width="1.12"/>
<polygon points="658.27,688.00 670.22,681.10 667.22,675.90 655.27,682.80" fill="#fff" stroke="none"/>
<path d="M658.27,688.00L670.22,681.10M655.27,682.80L667.22,675.90" stroke="#2a2a2a" stroke-width="1.12" fill="none"/>
<ellipse cx="656.8" cy="685.4" rx="1.2" ry="3.0" transform="rotate(-30 656.8 685.4)" fill="#fff" stroke="#2a2a2a" stroke-width="1.12"/>
<path d="M661.9,685.9L657.9,681.3M663.9,684.7L659.9,680.2M665.9,683.6L661.9,679.0M667.9,682.4L663.8,677.9M669.9,681.3L665.8,676.7" stroke="#2a2a2a" stroke-width="1.00" fill="none"/>
<ellipse cx="655.7" cy="686.0" rx="2.8" ry="4.7" transform="rotate(-30 655.7 686.0)" fill="#fff" stroke="#2a2a2a" stroke-width="1.12"/>
<polygon points="654.61,692.05 658.07,690.05 653.39,681.95 649.93,683.95" fill="#fff" stroke="none"/>
<path d="M654.61,692.05L658.07,690.05M649.93,683.95L653.39,681.95" stroke="#2a2a2a" stroke-width="1.12" fill="none"/>
<ellipse cx="652.3" cy="688.0" rx="2.8" ry="4.7" transform="rotate(-30 652.3 688.0)" fill="#fff" stroke="#2a2a2a" stroke-width="1.12"/>
<ellipse cx="656.8" cy="685.4" rx="2.9" ry="5.5" transform="rotate(-30 656.8 685.4)" fill="#fff" stroke="#2a2a2a" stroke-width="1.12"/>
<polygon points="658.48,690.76 659.52,690.16 654.02,680.64 652.98,681.24" fill="#fff" stroke="none"/>
<path d="M658.48,690.76L659.52,690.16M652.98,681.24L654.02,680.64" stroke="#2a2a2a" stroke-width="1.12" fill="none"/>
<ellipse cx="655.7" cy="686.0" rx="2.9" ry="5.5" transform="rotate(-30 655.7 686.0)" fill="#fff" stroke="#2a2a2a" stroke-width="1.12"/>
<ellipse cx="652.3" cy="688.0" rx="1.4" ry="2.8" transform="rotate(-30 652.3 688.0)" fill="none" stroke="#2a2a2a" stroke-width="0.88"/>
<line x1="651.2" y1="686.2" x2="654.7" y2="684.2" stroke="#2a2a2a" stroke-width="0.75"/>
<line x1="653.3" y1="689.8" x2="656.8" y2="687.8" stroke="#2a2a2a" stroke-width="0.75"/>
<path d="M642.9,763.8 L638.2,768.8 L631.8,766.9 L630.1,760.2 L634.8,755.2 L641.2,757.1 Z" fill="#fff" stroke="#2a2a2a" stroke-width="1.25" stroke-linejoin="round" stroke-linecap="round" />
<ellipse cx="636.5" cy="762.0" rx="3.9" ry="4.2" transform="rotate(0 636.5 762.0)" fill="#fff" stroke="#2a2a2a" stroke-width="1.12"/>
<ellipse cx="636.5" cy="762.0" rx="2.1" ry="2.3" transform="rotate(0 636.5 762.0)" fill="none" stroke="#2a2a2a" stroke-width="1.0"/>
<ellipse cx="554.8" cy="717.9" rx="5.6" ry="10.0" transform="rotate(21.695109460796886 554.8 717.9)" fill="#fff" stroke="#2a2a2a" stroke-width="1.25"/>
<polygon points="551.09,727.20 561.31,731.27 568.69,712.73 558.47,708.67" fill="#fff" stroke="none"/>
<path d="M551.09,727.20L561.31,731.27M558.47,708.67L568.69,712.73" stroke="#2a2a2a" stroke-width="1.25" fill="none"/>
<ellipse cx="565.0" cy="722.0" rx="5.6" ry="10.0" transform="rotate(21.695109460796886 565.0 722.0)" fill="#fff" stroke="#2a2a2a" stroke-width="1.25"/>
<ellipse cx="557.3" cy="719.0" rx="5.6" ry="10.0" transform="rotate(21.695109460796886 557.3 719.0)" fill="none" stroke="#2a2a2a" stroke-width="1.0"/>
<ellipse cx="559.9" cy="720.0" rx="5.6" ry="10.0" transform="rotate(21.695109460796886 559.9 720.0)" fill="none" stroke="#2a2a2a" stroke-width="1.0"/>
<ellipse cx="562.4" cy="721.0" rx="5.6" ry="10.0" transform="rotate(21.695109460796886 562.4 721.0)" fill="none" stroke="#2a2a2a" stroke-width="1.0"/>
<ellipse cx="565.0" cy="722.0" rx="6.2" ry="10.5" transform="rotate(21.695109460796886 565.0 722.0)" fill="#fff" stroke="#2a2a2a" stroke-width="1.25"/>
<ellipse cx="565.3" cy="722.1" rx="2.4" ry="3.5" transform="rotate(21.695109460796886 565.3 722.1)" fill="#fff" stroke="#2a2a2a" stroke-width="1.12"/>
<ellipse cx="574.1" cy="729.9" rx="1.9" ry="4.5" transform="rotate(202 574.1 729.9)" fill="#fff" stroke="#2a2a2a" stroke-width="1.25"/>
<polygon points="588.76,730.95 575.78,725.71 572.41,734.05 585.39,739.30" fill="#fff" stroke="none"/>
<path d="M588.76,730.95L575.78,725.71M585.39,739.30L572.41,734.05" stroke="#2a2a2a" stroke-width="1.25" fill="none"/>
<ellipse cx="587.1" cy="735.1" rx="1.9" ry="4.5" transform="rotate(202 587.1 735.1)" fill="#fff" stroke="#2a2a2a" stroke-width="1.25"/>
<ellipse cx="587.1" cy="735.1" rx="6.5" ry="10.0" transform="rotate(202 587.1 735.1)" fill="#fff" stroke="#2a2a2a" stroke-width="1.25"/>
<polygon points="592.67,726.60 590.82,725.85 583.33,744.40 585.18,745.15" fill="#fff" stroke="none"/>
<path d="M592.67,726.60L590.82,725.85M585.18,745.15L583.33,744.40" stroke="#2a2a2a" stroke-width="1.25" fill="none"/>
<ellipse cx="588.9" cy="735.9" rx="6.5" ry="10.0" transform="rotate(202 588.9 735.9)" fill="#fff" stroke="#2a2a2a" stroke-width="1.25"/>
<ellipse cx="588.9" cy="735.9" rx="1.9" ry="2.5" transform="rotate(202 588.9 735.9)" fill="none" stroke="#2a2a2a" stroke-width="1.12"/>
<ellipse cx="267.3" cy="564.2" rx="4.2" ry="7.2" transform="rotate(25 267.3 564.2)" fill="#fff" stroke="#2a2a2a" stroke-width="1.12"/>
<polygon points="264.23,570.78 269.67,573.32 275.77,560.22 270.33,557.68" fill="#fff" stroke="none"/>
<path d="M264.23,570.78L269.67,573.32M270.33,557.68L275.77,560.22" stroke="#2a2a2a" stroke-width="1.12" fill="none"/>
<ellipse cx="272.7" cy="566.8" rx="4.2" ry="7.2" transform="rotate(25 272.7 566.8)" fill="#fff" stroke="#2a2a2a" stroke-width="1.12"/>
<ellipse cx="272.7" cy="566.8" rx="4.4" ry="8.5" transform="rotate(25 272.7 566.8)" fill="#fff" stroke="#2a2a2a" stroke-width="1.12"/>
<polygon points="269.13,574.47 270.21,574.98 277.40,559.57 276.31,559.06" fill="#fff" stroke="none"/>
<path d="M269.13,574.47L270.21,574.98M276.31,559.06L277.40,559.57" stroke="#2a2a2a" stroke-width="1.12" fill="none"/>
<ellipse cx="273.8" cy="567.3" rx="4.4" ry="8.5" transform="rotate(25 273.8 567.3)" fill="#fff" stroke="#2a2a2a" stroke-width="1.12"/>
<line x1="268.7" y1="561.3" x2="274.1" y2="563.8" stroke="#2a2a2a" stroke-width="0.75"/>
<line x1="265.9" y1="567.2" x2="271.3" y2="569.7" stroke="#2a2a2a" stroke-width="0.75"/>
<ellipse cx="273.8" cy="567.3" rx="1.4" ry="3.4" transform="rotate(25 273.8 567.3)" fill="#fff" stroke="#2a2a2a" stroke-width="1.12"/>
<polygon points="272.37,570.36 294.85,580.84 297.72,574.67 275.24,564.19" fill="#fff" stroke="none"/>
<path d="M272.37,570.36L294.85,580.84M275.24,564.19L297.72,574.67" stroke="#2a2a2a" stroke-width="1.12" fill="none"/>
<ellipse cx="296.3" cy="577.8" rx="1.4" ry="3.4" transform="rotate(25 296.3 577.8)" fill="#fff" stroke="#2a2a2a" stroke-width="1.12"/>
<path d="M286.2,576.8L288.0,570.1M288.3,577.8L290.1,571.1M290.3,578.7L292.1,572.1M292.4,579.7L294.2,573.0M294.5,580.7L296.3,574.0" stroke="#2a2a2a" stroke-width="1.00" fill="none"/>
<ellipse cx="308.5" cy="585.3" rx="6.5" ry="10.0" transform="rotate(24 308.5 585.3)" fill="#fff" stroke="#2a2a2a" stroke-width="1.25"/>
<polygon points="304.47,594.48 305.93,595.14 314.07,576.86 312.61,576.21" fill="#fff" stroke="none"/>
<path d="M304.47,594.48L305.93,595.14M312.61,576.21L314.07,576.86" stroke="#2a2a2a" stroke-width="1.25" fill="none"/>
<ellipse cx="310.0" cy="586.0" rx="6.5" ry="10.0" transform="rotate(24 310.0 586.0)" fill="#fff" stroke="#2a2a2a" stroke-width="1.25"/>
<ellipse cx="310.0" cy="586.0" rx="1.3" ry="1.8" transform="rotate(24 310.0 586.0)" fill="#555" stroke="#2a2a2a" stroke-width="1.0"/>
<ellipse cx="402.7" cy="636.3" rx="5.6" ry="10.0" transform="rotate(21.695109460796886 402.7 636.3)" fill="#fff" stroke="#2a2a2a" stroke-width="1.25"/>
<polygon points="399.02,645.57 408.31,649.27 415.69,630.73 406.40,627.03" fill="#fff" stroke="none"/>
<path d="M399.02,645.57L408.31,649.27M406.40,627.03L415.69,630.73" stroke="#2a2a2a" stroke-width="1.25" fill="none"/>
<ellipse cx="412.0" cy="640.0" rx="5.6" ry="10.0" transform="rotate(21.695109460796886 412.0 640.0)" fill="#fff" stroke="#2a2a2a" stroke-width="1.25"/>
<ellipse cx="405.0" cy="637.2" rx="5.6" ry="10.0" transform="rotate(21.695109460796886 405.0 637.2)" fill="none" stroke="#2a2a2a" stroke-width="1.0"/>
<ellipse cx="407.4" cy="638.2" rx="5.6" ry="10.0" transform="rotate(21.695109460796886 407.4 638.2)" fill="none" stroke="#2a2a2a" stroke-width="1.0"/>
<ellipse cx="409.7" cy="639.1" rx="5.6" ry="10.0" transform="rotate(21.695109460796886 409.7 639.1)" fill="none" stroke="#2a2a2a" stroke-width="1.0"/>
<ellipse cx="412.0" cy="640.0" rx="6.2" ry="10.5" transform="rotate(21.695109460796886 412.0 640.0)" fill="#fff" stroke="#2a2a2a" stroke-width="1.25"/>
<ellipse cx="412.3" cy="640.1" rx="2.4" ry="3.5" transform="rotate(21.695109460796886 412.3 640.1)" fill="#fff" stroke="#2a2a2a" stroke-width="1.12"/>
<ellipse cx="275.0" cy="455.0" rx="1.2" ry="3.0" transform="rotate(-30 275.0 455.0)" fill="#fff" stroke="#2a2a2a" stroke-width="1.12"/>
<polygon points="266.27,463.50 276.49,457.60 273.49,452.40 263.27,458.30" fill="#fff" stroke="none"/>
<path d="M266.27,463.50L276.49,457.60M263.27,458.30L273.49,452.40" stroke="#2a2a2a" stroke-width="1.12" fill="none"/>
<ellipse cx="264.8" cy="460.9" rx="1.2" ry="3.0" transform="rotate(-30 264.8 460.9)" fill="#fff" stroke="#2a2a2a" stroke-width="1.12"/>
<path d="M270.5,461.0L266.5,456.5M272.4,460.0L268.4,455.4M274.3,458.9L270.2,454.3M276.1,457.8L272.1,453.2" stroke="#2a2a2a" stroke-width="1.00" fill="none"/>
<ellipse cx="263.7" cy="461.5" rx="3.0" ry="5.1" transform="rotate(-30 263.7 461.5)" fill="#fff" stroke="#2a2a2a" stroke-width="1.12"/>
<polygon points="262.82,467.92 266.28,465.92 261.18,457.08 257.72,459.08" fill="#fff" stroke="none"/>
<path d="M262.82,467.92L266.28,465.92M257.72,459.08L261.18,457.08" stroke="#2a2a2a" stroke-width="1.12" fill="none"/>
<ellipse cx="260.3" cy="463.5" rx="3.0" ry="5.1" transform="rotate(-30 260.3 463.5)" fill="#fff" stroke="#2a2a2a" stroke-width="1.12"/>
<ellipse cx="264.8" cy="460.9" rx="3.1" ry="6.0" transform="rotate(-30 264.8 460.9)" fill="#fff" stroke="#2a2a2a" stroke-width="1.12"/>
<polygon points="266.73,466.70 267.77,466.10 261.77,455.70 260.73,456.30" fill="#fff" stroke="none"/>
<path d="M266.73,466.70L267.77,466.10M260.73,456.30L261.77,455.70" stroke="#2a2a2a" stroke-width="1.12" fill="none"/>
<ellipse cx="263.7" cy="461.5" rx="3.1" ry="6.0" transform="rotate(-30 263.7 461.5)" fill="#fff" stroke="#2a2a2a" stroke-width="1.12"/>
<ellipse cx="260.3" cy="463.5" rx="1.5" ry="3.0" transform="rotate(-30 260.3 463.5)" fill="none" stroke="#2a2a2a" stroke-width="0.88"/>
<line x1="259.1" y1="461.5" x2="262.6" y2="459.5" stroke="#2a2a2a" stroke-width="0.75"/>
<line x1="261.4" y1="465.5" x2="264.9" y2="463.5" stroke="#2a2a2a" stroke-width="0.75"/>
<ellipse cx="400.0" cy="449.8" rx="1.2" ry="3.0" transform="rotate(-31 400.0 449.8)" fill="#fff" stroke="#2a2a2a" stroke-width="1.12"/>
<polygon points="390.59,458.92 401.56,452.33 398.47,447.19 387.50,453.78" fill="#fff" stroke="none"/>
<path d="M390.59,458.92L401.56,452.33M387.50,453.78L398.47,447.19" stroke="#2a2a2a" stroke-width="1.12" fill="none"/>
<ellipse cx="389.0" cy="456.4" rx="1.2" ry="3.0" transform="rotate(-31 389.0 456.4)" fill="#fff" stroke="#2a2a2a" stroke-width="1.12"/>
<path d="M395.2,456.1L391.1,451.6M397.2,454.9L393.1,450.4M399.2,453.7L395.1,449.2M401.2,452.5L397.1,448.0" stroke="#2a2a2a" stroke-width="1.00" fill="none"/>
<ellipse cx="388.0" cy="457.0" rx="3.0" ry="5.1" transform="rotate(-31 388.0 457.0)" fill="#fff" stroke="#2a2a2a" stroke-width="1.12"/>
<polygon points="387.21,463.40 390.64,461.34 385.39,452.60 381.96,454.66" fill="#fff" stroke="none"/>
<path d="M387.21,463.40L390.64,461.34M381.96,454.66L385.39,452.60" stroke="#2a2a2a" stroke-width="1.12" fill="none"/>
<ellipse cx="384.6" cy="459.0" rx="3.0" ry="5.1" transform="rotate(-31 384.6 459.0)" fill="#fff" stroke="#2a2a2a" stroke-width="1.12"/>
<ellipse cx="389.0" cy="456.4" rx="3.1" ry="6.0" transform="rotate(-31 389.0 456.4)" fill="#fff" stroke="#2a2a2a" stroke-width="1.12"/>
<polygon points="391.10,462.11 392.13,461.49 385.95,451.21 384.92,451.83" fill="#fff" stroke="none"/>
<path d="M391.10,462.11L392.13,461.49M384.92,451.83L385.95,451.21" stroke="#2a2a2a" stroke-width="1.12" fill="none"/>
<ellipse cx="388.0" cy="457.0" rx="3.1" ry="6.0" transform="rotate(-31 388.0 457.0)" fill="#fff" stroke="#2a2a2a" stroke-width="1.12"/>
<ellipse cx="384.6" cy="459.0" rx="1.5" ry="3.0" transform="rotate(-31 384.6 459.0)" fill="none" stroke="#2a2a2a" stroke-width="0.88"/>
<line x1="383.4" y1="457.1" x2="386.8" y2="455.0" stroke="#2a2a2a" stroke-width="0.75"/>
<line x1="385.8" y1="461.0" x2="389.2" y2="458.9" stroke="#2a2a2a" stroke-width="0.75"/>
<path d="M328,418.4 L337.168,419.512 L337.168,433.24 L328,431.128 Z" fill="#fff" stroke="#2a2a2a" stroke-width="1.25" stroke-linejoin="round" stroke-linecap="round" />
<path d="M337.168,419.512 L342.4,420.91999999999996 L342.4,434 L337.168,433.24" fill="#fff" stroke="#2a2a2a" stroke-width="1.25" stroke-linejoin="round" stroke-linecap="round" />
<ellipse cx="332.4" cy="426.2" rx="2.6" ry="3.5" transform="rotate(0 332.4 426.2)" fill="#fff" stroke="#2a2a2a" stroke-width="1.62"/>
<ellipse cx="340.4" cy="425.3" rx="1.1" ry="2.1" transform="rotate(0 340.4 425.3)" fill="#555" stroke="#2a2a2a" stroke-width="1.25"/>
<ellipse cx="340.4" cy="431.1" rx="1.1" ry="1.8" transform="rotate(0 340.4 431.1)" fill="#555" stroke="#2a2a2a" stroke-width="1.25"/>
<path d="M432.4,474.5 L441.692,475.36 L441.692,487.45 L432.4,485.59 Z" fill="#fff" stroke="#2a2a2a" stroke-width="1.25" stroke-linejoin="round" stroke-linecap="round" />
<path d="M441.692,475.36 L447,476.6 L447,488 L441.692,487.45" fill="#fff" stroke="#2a2a2a" stroke-width="1.25" stroke-linejoin="round" stroke-linecap="round" />
<ellipse cx="436.9" cy="481.2" rx="2.7" ry="3.1" transform="rotate(0 436.9 481.2)" fill="#fff" stroke="#2a2a2a" stroke-width="1.62"/>
<ellipse cx="445.0" cy="480.5" rx="1.2" ry="1.9" transform="rotate(0 445.0 480.5)" fill="#555" stroke="#2a2a2a" stroke-width="1.25"/>
<ellipse cx="445.0" cy="485.6" rx="1.2" ry="1.6" transform="rotate(0 445.0 485.6)" fill="#555" stroke="#2a2a2a" stroke-width="1.25"/>
<path d="M366.75,427.3 L371.25,428.1 L371.55,467 L367.05,466.2 Z" fill="#fff" stroke="#2a2a2a" stroke-width="1.12" stroke-linejoin="round" stroke-linecap="round" />
<path d="M371.25,428.1 L371.55,467" fill="none" stroke="#2a2a2a" stroke-width="1.75" stroke-linejoin="round" stroke-linecap="round" />
<path d="M456.25,541 L460.75,541.8 L461.05,580 L456.55,579.2 Z" fill="#fff" stroke="#2a2a2a" stroke-width="1.12" stroke-linejoin="round" stroke-linecap="round" />
<path d="M460.75,541.8 L461.05,580" fill="none" stroke="#2a2a2a" stroke-width="1.75" stroke-linejoin="round" stroke-linecap="round" />
<text transform="translate(270.70 86.40) scale(1.276 1.005)" text-anchor="middle" font-size="12">11</text>
<text transform="translate(392.00 98.10) scale(1.216 0.884)" text-anchor="middle" font-size="12">9</text>
<text transform="translate(482.50 182.50) scale(1.255 0.889)" text-anchor="middle" font-size="12">10</text>
<text transform="translate(367.00 222.50) scale(1.188 0.889)" text-anchor="middle" font-size="12">11</text>
<text transform="translate(383.00 236.25) scale(1.177 0.951)" text-anchor="middle" font-size="12">5</text>
<text transform="translate(412.50 250.50) scale(1.096 0.884)" text-anchor="middle" font-size="12">4</text>
<text transform="translate(440.00 263.85) scale(1.333 0.946)" text-anchor="middle" font-size="12">2</text>
<text transform="translate(458.00 274.25) scale(1.333 0.951)" text-anchor="middle" font-size="12">3</text>
<text transform="translate(412.00 363.85) scale(1.195 0.946)" text-anchor="middle" font-size="12">10</text>
<text transform="translate(623.00 206.50) scale(1.250 0.889)" text-anchor="middle" font-size="12">14</text>
<text transform="translate(576.50 282.50) scale(1.089 0.889)" text-anchor="middle" font-size="12">12</text>
<text transform="translate(625.50 299.50) scale(1.089 0.889)" text-anchor="middle" font-size="12">15</text>
<text transform="translate(526.50 360.00) scale(1.089 1.012)" text-anchor="middle" font-size="12">13</text>
<text transform="translate(328.50 396.25) scale(1.308 0.951)" text-anchor="middle" font-size="12">24</text>
<text transform="translate(254.00 436.25) scale(1.296 0.946)" text-anchor="middle" font-size="12">23</text>
<text transform="translate(411.40 418.25) scale(0.929 0.944)" text-anchor="middle" font-size="12">1</text>
<text transform="translate(399.50 440.25) scale(1.157 0.944)" text-anchor="middle" font-size="12">25</text>
<text transform="translate(395.70 483.40) scale(1.336 1.008)" text-anchor="middle" font-size="12">23</text>
<text transform="translate(254.00 502.45) scale(1.296 0.944)" text-anchor="middle" font-size="12">20</text>
<text transform="translate(457.50 514.25) scale(1.308 0.951)" text-anchor="middle" font-size="12">24</text>
<text transform="translate(486.50 574.25) scale(1.154 0.951)" text-anchor="middle" font-size="12">25</text>
<text transform="translate(253.00 600.25) scale(1.250 0.951)" text-anchor="middle" font-size="12">19</text>
<text transform="translate(295.50 621.00) scale(1.119 0.766)" text-anchor="middle" font-size="12">4</text>
<text transform="translate(390.50 673.25) scale(1.154 0.951)" text-anchor="middle" font-size="12">21</text>
<text transform="translate(672.50 388.00) scale(1.042 1.000)" text-anchor="middle" font-size="12">3</text>
<text transform="translate(701.50 402.00) scale(1.261 1.000)" text-anchor="middle" font-size="12">2</text>
<text transform="translate(724.00 415.00) scale(1.121 1.016)" text-anchor="middle" font-size="12">4</text>
<text transform="translate(750.50 430.25) scale(1.427 0.951)" text-anchor="middle" font-size="12">5</text>
<text transform="translate(674.00 461.25) scale(0.987 0.951)" text-anchor="middle" font-size="12">7</text>
<text transform="translate(717.50 488.75) scale(1.042 0.828)" text-anchor="middle" font-size="12">8</text>
<text transform="translate(778.50 486.00) scale(1.096 1.012)" text-anchor="middle" font-size="12">7</text>
<text transform="translate(609.50 576.75) scale(1.261 0.828)" text-anchor="middle" font-size="12">8</text>
<text transform="translate(789.00 578.25) scale(1.333 0.951)" text-anchor="middle" font-size="12">6</text>
<text transform="translate(644.00 663.25) scale(1.250 0.951)" text-anchor="middle" font-size="12">17</text>
<text transform="translate(688.00 747.25) scale(1.250 0.951)" text-anchor="middle" font-size="12">16</text>
<text transform="translate(546.80 755.00) scale(1.345 1.012)" text-anchor="middle" font-size="12">2</text>
<text transform="translate(572.00 773.25) scale(1.340 0.951)" text-anchor="middle" font-size="12">22</text>
<text transform="translate(621.10 797.25) scale(1.135 0.951)" text-anchor="middle" font-size="12">18</text>
<text x="240.2" y="805.6" font-size="11.6" textLength="93" lengthAdjust="spacingAndGlyphs" style="fill:#3a3a3a;stroke:none">B671300-R090</text>
</svg>
</body></html>
